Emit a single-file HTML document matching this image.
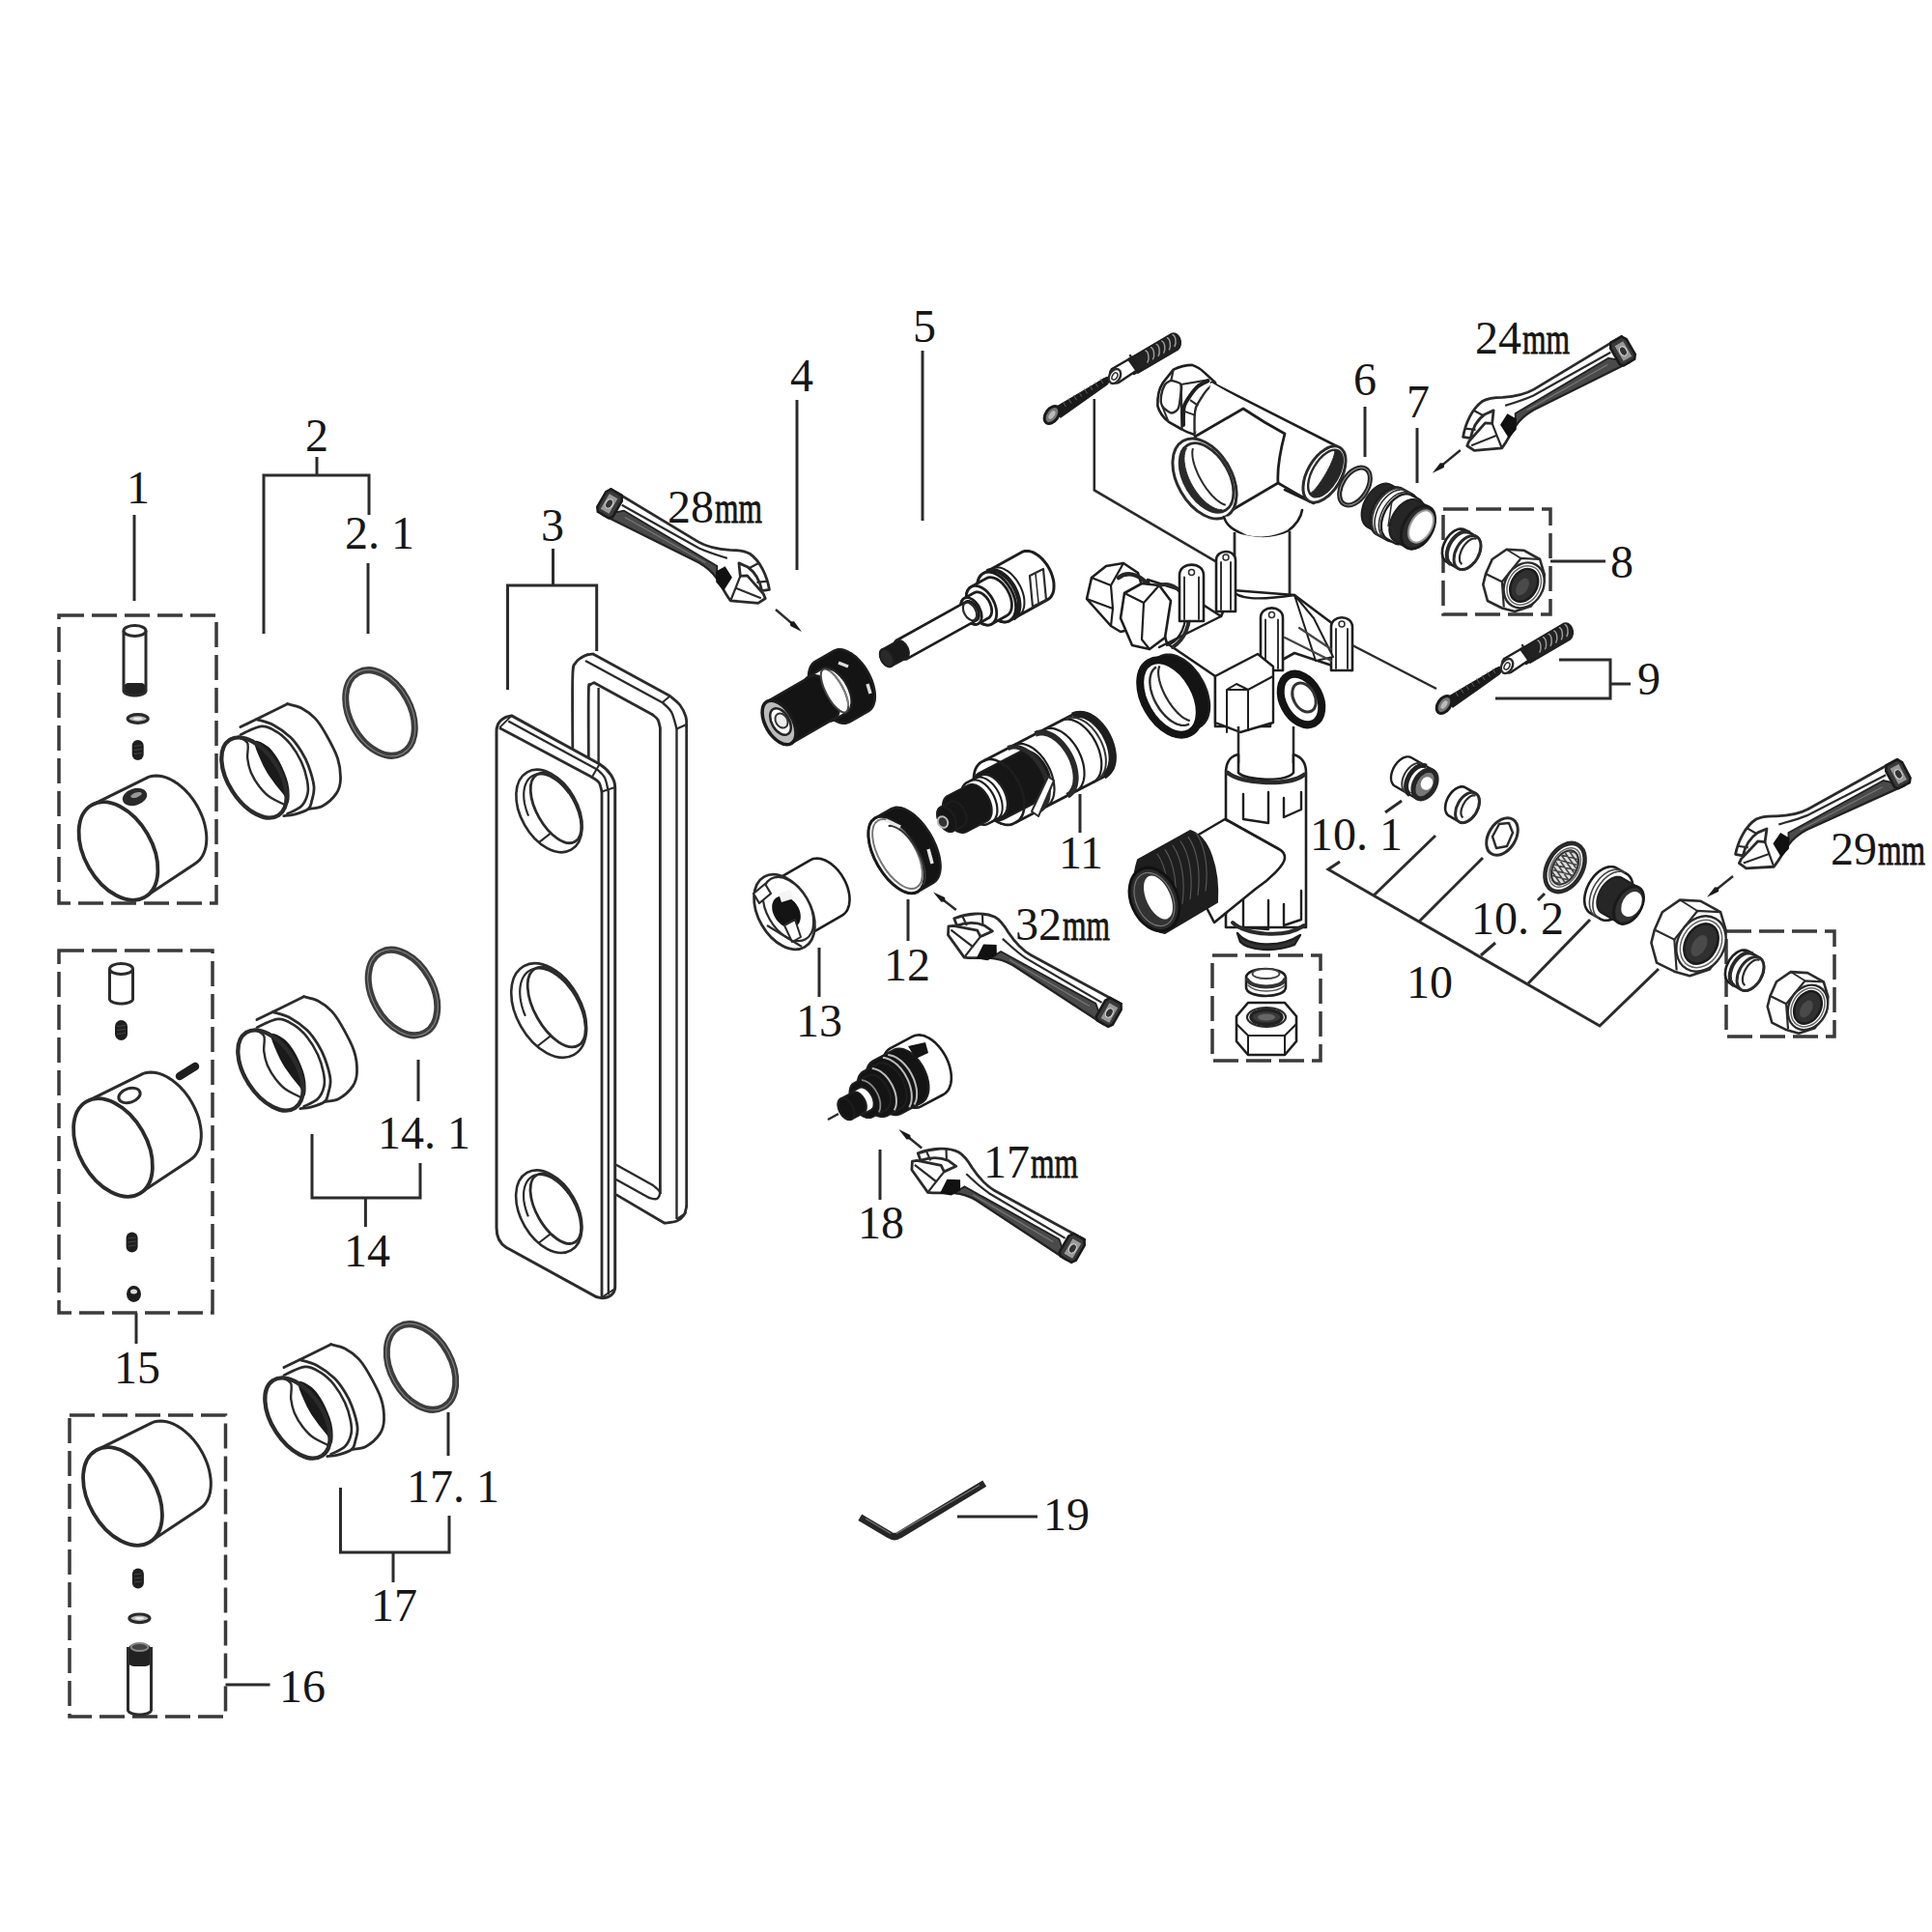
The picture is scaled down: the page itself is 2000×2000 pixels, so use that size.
<!DOCTYPE html>
<html><head><meta charset="utf-8"><style>
html,body{margin:0;padding:0;background:#fff;}
svg{display:block;}
text{font-family:"Liberation Serif",serif;fill:#161616;}
</style></head><body>
<svg width="2000" height="2000" viewBox="0 0 2000 2000">
<rect width="2000" height="2000" fill="#fff"/>
<text x="143" y="521" text-anchor="middle" font-size="48">1</text>
<text x="328" y="467" text-anchor="middle" font-size="48">2</text>
<text x="357" y="568" text-anchor="start" font-size="48">2. 1</text>
<text x="572" y="560" text-anchor="middle" font-size="48">3</text>
<text x="830" y="405" text-anchor="middle" font-size="48">4</text>
<text x="957" y="354" text-anchor="middle" font-size="48">5</text>
<text x="691" y="541" font-size="48">28</text>
<text x="740" y="541" font-size="46" stroke="#161616" stroke-width="0.9" textLength="49" lengthAdjust="spacingAndGlyphs">mm</text>
<text x="1413" y="409" text-anchor="middle" font-size="48">6</text>
<text x="1468" y="432" text-anchor="middle" font-size="48">7</text>
<text x="1527" y="366" font-size="48">24</text>
<text x="1576" y="366" font-size="46" stroke="#161616" stroke-width="0.9" textLength="49" lengthAdjust="spacingAndGlyphs">mm</text>
<text x="1679" y="598" text-anchor="middle" font-size="48">8</text>
<text x="1707" y="719" text-anchor="middle" font-size="48">9</text>
<text x="1356" y="880" text-anchor="start" font-size="48">10. 1</text>
<text x="1119" y="899" text-anchor="middle" font-size="48">11</text>
<text x="1895" y="895" font-size="48">29</text>
<text x="1944" y="895" font-size="46" stroke="#161616" stroke-width="0.9" textLength="49" lengthAdjust="spacingAndGlyphs">mm</text>
<text x="1051" y="973" font-size="48">32</text>
<text x="1100" y="973" font-size="46" stroke="#161616" stroke-width="0.9" textLength="49" lengthAdjust="spacingAndGlyphs">mm</text>
<text x="1523" y="967" text-anchor="start" font-size="48">10. 2</text>
<text x="939" y="1015" text-anchor="middle" font-size="48">12</text>
<text x="848" y="1073" text-anchor="middle" font-size="48">13</text>
<text x="1480" y="1033" text-anchor="middle" font-size="48">10</text>
<text x="391" y="1189" text-anchor="start" font-size="48">14. 1</text>
<text x="1018" y="1219" font-size="48">17</text>
<text x="1067" y="1219" font-size="46" stroke="#161616" stroke-width="0.9" textLength="49" lengthAdjust="spacingAndGlyphs">mm</text>
<text x="380" y="1311" text-anchor="middle" font-size="48">14</text>
<text x="912" y="1282" text-anchor="middle" font-size="48">18</text>
<text x="142" y="1432" text-anchor="middle" font-size="48">15</text>
<text x="421" y="1555" text-anchor="start" font-size="48">17. 1</text>
<text x="1104" y="1584" text-anchor="middle" font-size="48">19</text>
<text x="408" y="1678" text-anchor="middle" font-size="48">17</text>
<text x="313" y="1762" text-anchor="middle" font-size="48">16</text>
<path d="M139.0,533.0 L139.0,622.0" stroke="#2b2b2b" stroke-width="3" fill="none" />
<path d="M328.0,473.0 L328.0,492.0" stroke="#2b2b2b" stroke-width="3" fill="none" />
<path d="M273.0,656.0 L273.0,492.0 L382.0,492.0 L382.0,533.0" stroke="#2b2b2b" stroke-width="3" fill="none" />
<path d="M381.0,583.0 L381.0,656.0" stroke="#2b2b2b" stroke-width="3" fill="none" />
<path d="M572.5,568.0 L572.5,606.0" stroke="#2b2b2b" stroke-width="3" fill="none" />
<path d="M525.5,714.0 L525.5,606.0 L617.7,606.0 L617.7,674.0" stroke="#2b2b2b" stroke-width="3" fill="none" />
<path d="M825.0,414.0 L825.0,590.0" stroke="#2b2b2b" stroke-width="3" fill="none" />
<path d="M955.0,363.0 L955.0,539.0" stroke="#2b2b2b" stroke-width="3" fill="none" />
<path d="M1413.0,421.0 L1413.0,473.0" stroke="#2b2b2b" stroke-width="3" fill="none" />
<path d="M1467.0,443.0 L1467.0,500.0" stroke="#2b2b2b" stroke-width="3" fill="none" />
<path d="M1605.0,581.0 L1662.0,581.0" stroke="#2b2b2b" stroke-width="3" fill="none" />
<path d="M141.0,1359.0 L141.0,1391.0" stroke="#2b2b2b" stroke-width="3" fill="none" />
<path d="M433.0,1097.0 L433.0,1140.0" stroke="#2b2b2b" stroke-width="3" fill="none" />
<path d="M323.0,1174.0 L323.0,1240.0 L435.0,1240.0 L435.0,1204.0" stroke="#2b2b2b" stroke-width="3" fill="none" />
<path d="M378.4,1240.0 L378.4,1270.0" stroke="#2b2b2b" stroke-width="3" fill="none" />
<path d="M464.0,1462.0 L464.0,1507.0" stroke="#2b2b2b" stroke-width="3" fill="none" />
<path d="M352.5,1540.0 L352.5,1607.0 L465.0,1607.0 L465.0,1569.0" stroke="#2b2b2b" stroke-width="3" fill="none" />
<path d="M407.0,1607.0 L407.0,1638.0" stroke="#2b2b2b" stroke-width="3" fill="none" />
<path d="M233.5,1744.0 L279.5,1744.0" stroke="#2b2b2b" stroke-width="3" fill="none" />
<path d="M1118.0,822.0 L1118.0,862.0" stroke="#2b2b2b" stroke-width="3" fill="none" />
<path d="M848.0,981.0 L848.0,1032.0" stroke="#2b2b2b" stroke-width="3" fill="none" />
<path d="M940.0,931.0 L940.0,974.0" stroke="#2b2b2b" stroke-width="3" fill="none" />
<path d="M911.0,1190.0 L911.0,1242.0" stroke="#2b2b2b" stroke-width="3" fill="none" />
<path d="M991.0,1570.0 L1074.0,1570.0" stroke="#2b2b2b" stroke-width="3" fill="none" />
<path d="M1614.0,683.0 L1667.0,683.0 L1667.0,723.0 L1548.0,723.0" stroke="#2b2b2b" stroke-width="3" fill="none" />
<path d="M1667.0,708.0 L1688.0,708.0" stroke="#2b2b2b" stroke-width="3" fill="none" />
<path d="M1387.0,892.0 L1375.0,900.0 L1656.0,1062.0 L1717.0,1003.0" stroke="#2b2b2b" stroke-width="3" fill="none" />
<path d="M1422.0,927.0 L1486.0,865.0" stroke="#2b2b2b" stroke-width="3" fill="none" />
<path d="M1469.0,954.0 L1535.0,888.0" stroke="#2b2b2b" stroke-width="3" fill="none" />
<path d="M1533.0,989.0 L1548.0,976.0" stroke="#2b2b2b" stroke-width="3" fill="none" />
<path d="M1582.0,1018.0 L1646.0,952.0" stroke="#2b2b2b" stroke-width="3" fill="none" />
<path d="M1434.0,841.0 L1451.0,829.0" stroke="#2b2b2b" stroke-width="3" fill="none" />
<path d="M1592.0,932.0 L1599.0,925.0" stroke="#2b2b2b" stroke-width="3" fill="none" />
<rect x="61" y="637" width="163" height="298" stroke="#3a3a3a" stroke-width="3.5" fill="none" stroke-dasharray="26 8"/>
<rect x="61" y="984" width="159" height="375" stroke="#3a3a3a" stroke-width="3.5" fill="none" stroke-dasharray="26 8"/>
<rect x="72" y="1465" width="161.5" height="312" stroke="#3a3a3a" stroke-width="3.5" fill="none" stroke-dasharray="26 8"/>
<rect x="1494" y="527" width="111" height="109" stroke="#3a3a3a" stroke-width="3.5" fill="none" stroke-dasharray="26 8"/>
<rect x="1787" y="964" width="112" height="109" stroke="#3a3a3a" stroke-width="3.5" fill="none" stroke-dasharray="26 8"/>
<rect x="1255" y="989" width="112" height="109" stroke="#3a3a3a" stroke-width="3.5" fill="none" stroke-dasharray="26 8"/>
<rect x="128.0" y="707" width="23" height="12" rx="5" fill="#222"/>
<path d="M128.0,653.0 L128.0,715.0" stroke="#2b2b2b" stroke-width="3" fill="none" />
<path d="M151.0,653.0 L151.0,715.0" stroke="#2b2b2b" stroke-width="3" fill="none" />
<path d="M151.0,715.0 L151.0,715.4 L150.8,715.9 L150.6,716.3 L150.3,716.7 L149.9,717.1 L149.5,717.5 L148.9,717.9 L148.3,718.2 L147.6,718.5 L146.9,718.8 L146.1,719.1 L145.2,719.3 L144.4,719.5 L143.4,719.7 L142.5,719.8 L141.5,719.9 L140.5,720.0 L139.5,720.0 L138.5,720.0 L137.5,719.9 L136.5,719.8 L135.6,719.7 L134.6,719.5 L133.8,719.3 L132.9,719.1 L132.1,718.8 L131.4,718.5 L130.7,718.2 L130.1,717.9 L129.5,717.5 L129.1,717.1 L128.7,716.7 L128.4,716.3 L128.2,715.9 L128.0,715.4 L128.0,715.0" stroke="#2b2b2b" stroke-width="3" fill="none" />
<ellipse cx="139.5" cy="653" rx="11.5" ry="5.5" transform="rotate(0 139.5 653)" stroke="#2b2b2b" stroke-width="3" fill="#fff"/>
<ellipse cx="142.7" cy="744" rx="10.5" ry="4.3" transform="rotate(0 142.7 744)" stroke="#2b2b2b" stroke-width="3.2" fill="#bbb"/>
<ellipse cx="142.7" cy="744" rx="4.5" ry="1.4" transform="rotate(0 142.7 744)" stroke="#2b2b2b" stroke-width="0" fill="#eee"/>
<rect x="136.7" y="766.0" width="12" height="21" rx="6.0" fill="#1e1e1e"/>
<line x1="138.7" y1="772.5" x2="146.7" y2="771.5" stroke="#444" stroke-width="1"/>
<line x1="138.7" y1="776.5" x2="146.7" y2="775.5" stroke="#444" stroke-width="1"/>
<line x1="138.7" y1="780.5" x2="146.7" y2="779.5" stroke="#444" stroke-width="1"/>
<path d="M95.0,833.4 L150.7,805.8 L150.7,805.8 L153.2,804.6 L155.9,803.7 L158.7,803.2 L161.7,803.0 L164.8,803.2 L168.0,803.8 L171.2,804.6 L174.5,805.9 L177.8,807.5 L181.0,809.4 L184.3,811.6 L187.4,814.1 L190.5,816.8 L193.5,819.9 L196.4,823.1 L199.1,826.6 L201.6,830.2 L203.9,834.0 L206.0,837.9 L207.9,841.9 L209.6,846.0 L211.0,850.1 L212.1,854.2 L212.9,858.2 L213.5,862.2 L213.8,866.1 L213.8,869.9 L213.5,873.5 L213.0,877.0 L212.1,880.2 L211.0,883.3 L209.6,886.0 L208.0,888.5 L206.1,890.7 L204.0,892.6 L201.7,894.2 L201.7,894.2 L150.0,928.6" stroke="#2b2b2b" stroke-width="3" fill="#fff" stroke-linejoin="round"/>
<ellipse cx="139.5" cy="825" rx="11.5" ry="7.2" transform="rotate(-18 139.5 825)" stroke="#2b2b2b" stroke-width="3" fill="#2a2a2a"/>
<ellipse cx="141.0" cy="823" rx="6" ry="2.5" transform="rotate(-18 141.0 823)" stroke="#2b2b2b" stroke-width="0" fill="#999"/>
<ellipse cx="122.5" cy="881" rx="55" ry="35" transform="rotate(60 122.5 881)" stroke="#2b2b2b" stroke-width="3.8" fill="#fff"/>
<path d="M248.9,752.6 C257.0,748.6 289.4,732.7 297.5,728.7" stroke="#2b2b2b" stroke-width="2.8" fill="none" stroke-linejoin="round" stroke-linecap="round" />
<path d="M297.5,728.7 C299.9,729.4 307.2,730.5 312.0,733.0 C316.8,735.5 322.2,739.4 326.4,743.9 C330.6,748.4 333.4,753.0 337.3,759.9 C341.2,766.8 347.1,777.4 349.6,785.2 C352.1,793.1 352.7,801.0 352.5,807.0 C352.3,813.0 351.3,816.8 348.2,821.4 C345.1,826.0 338.5,831.8 333.7,834.5 C328.9,837.2 321.6,836.9 319.2,837.4" stroke="#2b2b2b" stroke-width="2.8" fill="none" stroke-linejoin="round" stroke-linecap="round" />
<path d="M265.6,744.6 C268.5,745.6 277.1,747.2 283.0,750.4 C288.9,753.5 296.2,758.9 301.0,763.5 C305.8,768.1 309.0,773.2 312.0,778.0 C315.0,782.8 317.0,786.5 319.2,792.5 C321.4,798.5 324.4,808.2 325.0,814.2 C325.6,820.2 323.8,824.8 322.8,828.7 C321.8,832.6 322.2,835.0 319.2,837.4 C316.2,839.8 308.9,842.0 304.7,843.2 C300.5,844.4 295.6,844.4 293.8,844.6" stroke="#2b2b2b" stroke-width="2.8" fill="none" stroke-linejoin="round" stroke-linecap="round" />
<path d="M248.9,760.6 C252.5,759.1 264.4,752.4 270.7,751.9 C277.0,751.4 281.6,754.6 286.6,757.7 C291.7,760.8 296.8,765.5 301.0,770.7 C305.2,775.9 309.2,782.8 312.0,788.8 C314.8,794.8 316.7,801.6 317.8,807.0 C318.9,812.4 319.5,816.8 318.5,821.4 C317.5,826.0 315.5,831.0 312.0,834.5 C308.5,838.0 299.9,841.2 297.5,842.5" stroke="#2b2b2b" stroke-width="2.6" fill="none" stroke-linejoin="round" stroke-linecap="round" />
<path d="M246.7,762.8 C248.3,763.9 254.6,765.6 256.2,769.3 C257.8,773.0 255.6,780.1 256.2,785.2 C256.8,790.3 257.8,794.9 259.8,799.7 C261.9,804.5 265.2,810.0 268.5,814.2 C271.8,818.4 274.9,822.0 279.3,825.1 C283.7,828.2 292.1,831.7 294.6,833.0" stroke="#2b2b2b" stroke-width="2.4" fill="none" stroke-linejoin="round" stroke-linecap="round" />
<path d="M264.1,767.8 C262.9,769.7 267.7,779.9 269.9,785.2 C272.1,790.5 274.4,795.1 277.2,799.7 C280.0,804.3 283.7,808.9 286.6,812.8 C289.5,816.7 292.8,819.9 294.6,822.9 C296.4,825.9 296.8,830.9 297.5,830.9 C298.2,830.9 298.9,826.3 298.9,822.9 C298.9,819.5 298.4,814.5 297.5,810.6 C296.6,806.7 295.6,803.9 293.8,799.7 C292.0,795.5 289.4,789.6 286.6,785.2 C283.8,780.9 280.9,776.5 277.2,773.6 C273.4,770.7 265.3,765.9 264.1,767.8 Z" stroke="#1a1a1a" stroke-width="1.5" fill="#1a1a1a" stroke-linejoin="round" stroke-linecap="round" />
<ellipse cx="263" cy="805" rx="46.5" ry="26.5" transform="rotate(57 263 805)" stroke="#2b2b2b" stroke-width="4.3" fill="none"/>
<ellipse cx="393.5" cy="738" rx="47.5" ry="31.3" transform="rotate(61 393.5 738)" stroke="#3d3d3d" stroke-width="7" fill="none"/>
<ellipse cx="393.5" cy="738" rx="48.0" ry="31.8" transform="rotate(61 393.5 738)" stroke="#8a8a8a" stroke-width="1.0" fill="none"/>
<path d="M113.5,1003.0 L113.5,1034.0" stroke="#2b2b2b" stroke-width="3" fill="none" />
<path d="M137.5,1003.0 L137.5,1034.0" stroke="#2b2b2b" stroke-width="3" fill="none" />
<path d="M137.5,1034.0 L137.5,1034.4 L137.3,1034.9 L137.1,1035.3 L136.8,1035.7 L136.4,1036.1 L135.9,1036.5 L135.3,1036.9 L134.7,1037.2 L134.0,1037.5 L133.2,1037.8 L132.4,1038.1 L131.5,1038.3 L130.6,1038.5 L129.6,1038.7 L128.6,1038.8 L127.6,1038.9 L126.5,1039.0 L125.5,1039.0 L124.5,1039.0 L123.4,1038.9 L122.4,1038.8 L121.4,1038.7 L120.4,1038.5 L119.5,1038.3 L118.6,1038.1 L117.8,1037.8 L117.0,1037.5 L116.3,1037.2 L115.7,1036.9 L115.1,1036.5 L114.6,1036.1 L114.2,1035.7 L113.9,1035.3 L113.7,1034.9 L113.5,1034.4 L113.5,1034.0" stroke="#2b2b2b" stroke-width="3" fill="none" />
<ellipse cx="125.5" cy="1003" rx="12.0" ry="5.5" transform="rotate(0 125.5 1003)" stroke="#2b2b2b" stroke-width="3" fill="#fff"/>
<rect x="119.0" y="1056.0" width="13" height="21" rx="6.5" fill="#1e1e1e"/>
<line x1="121.0" y1="1062.5" x2="130.0" y2="1061.5" stroke="#444" stroke-width="1"/>
<line x1="121.0" y1="1066.5" x2="130.0" y2="1065.5" stroke="#444" stroke-width="1"/>
<line x1="121.0" y1="1070.5" x2="130.0" y2="1069.5" stroke="#444" stroke-width="1"/>
<path d="M89.5,1140.4 L145.2,1112.8 L145.2,1112.8 L147.7,1111.6 L150.4,1110.7 L153.2,1110.2 L156.2,1110.0 L159.3,1110.2 L162.5,1110.8 L165.7,1111.6 L169.0,1112.9 L172.3,1114.5 L175.5,1116.4 L178.8,1118.6 L181.9,1121.1 L185.0,1123.8 L188.0,1126.9 L190.9,1130.1 L193.6,1133.6 L196.1,1137.2 L198.4,1141.0 L200.5,1144.9 L202.4,1148.9 L204.1,1153.0 L205.5,1157.1 L206.6,1161.2 L207.4,1165.2 L208.0,1169.2 L208.3,1173.1 L208.3,1176.9 L208.0,1180.5 L207.5,1184.0 L206.6,1187.2 L205.5,1190.3 L204.1,1193.0 L202.5,1195.5 L200.6,1197.7 L198.5,1199.6 L196.2,1201.2 L196.2,1201.2 L144.5,1235.6" stroke="#2b2b2b" stroke-width="3" fill="#fff" stroke-linejoin="round"/>
<ellipse cx="134" cy="1134" rx="11.5" ry="7.2" transform="rotate(-18 134 1134)" stroke="#2b2b2b" stroke-width="3" fill="#fff"/>
<ellipse cx="117" cy="1188" rx="55" ry="35" transform="rotate(60 117 1188)" stroke="#2b2b2b" stroke-width="3.8" fill="#fff"/>
<path d="M186,1114 L202,1104" stroke="#1e1e1e" stroke-width="8.5" stroke-linecap="round"/>
<rect x="130.6" y="1275.5" width="12" height="21" rx="6.0" fill="#1e1e1e"/>
<line x1="132.6" y1="1282" x2="140.6" y2="1281" stroke="#444" stroke-width="1"/>
<line x1="132.6" y1="1286" x2="140.6" y2="1285" stroke="#444" stroke-width="1"/>
<line x1="132.6" y1="1290" x2="140.6" y2="1289" stroke="#444" stroke-width="1"/>
<ellipse cx="138.5" cy="1339.5" rx="7.5" ry="8.5" fill="#1e1e1e"/><ellipse cx="138.5" cy="1337" rx="3.5" ry="2.5" fill="#ddd"/>
<path d="M265.9,1055.6 C274.0,1051.6 306.4,1035.7 314.5,1031.7" stroke="#2b2b2b" stroke-width="2.8" fill="none" stroke-linejoin="round" stroke-linecap="round" />
<path d="M314.5,1031.7 C316.9,1032.4 324.2,1033.5 329.0,1036.0 C333.8,1038.5 339.2,1042.4 343.4,1046.9 C347.6,1051.4 350.4,1056.0 354.3,1062.9 C358.2,1069.8 364.1,1080.4 366.6,1088.2 C369.1,1096.0 369.7,1104.0 369.5,1110.0 C369.3,1116.0 368.3,1119.8 365.2,1124.4 C362.1,1129.0 355.5,1134.8 350.7,1137.5 C345.9,1140.2 338.6,1139.9 336.2,1140.4" stroke="#2b2b2b" stroke-width="2.8" fill="none" stroke-linejoin="round" stroke-linecap="round" />
<path d="M282.6,1047.6 C285.5,1048.6 294.1,1050.2 300.0,1053.4 C305.9,1056.6 313.2,1061.9 318.0,1066.5 C322.8,1071.1 326.0,1076.2 329.0,1081.0 C332.0,1085.8 334.0,1089.5 336.2,1095.5 C338.4,1101.5 341.4,1111.2 342.0,1117.2 C342.6,1123.2 340.8,1127.8 339.8,1131.7 C338.8,1135.6 339.2,1138.0 336.2,1140.4 C333.2,1142.8 325.9,1145.0 321.7,1146.2 C317.5,1147.4 312.6,1147.4 310.8,1147.6" stroke="#2b2b2b" stroke-width="2.8" fill="none" stroke-linejoin="round" stroke-linecap="round" />
<path d="M265.9,1063.6 C269.5,1062.1 281.4,1055.4 287.7,1054.9 C294.0,1054.4 298.6,1057.6 303.6,1060.7 C308.7,1063.8 313.8,1068.5 318.0,1073.7 C322.2,1078.9 326.2,1085.8 329.0,1091.8 C331.8,1097.8 333.7,1104.6 334.8,1110.0 C335.9,1115.4 336.5,1119.8 335.5,1124.4 C334.5,1129.0 332.5,1134.0 329.0,1137.5 C325.5,1141.0 316.9,1144.2 314.5,1145.5" stroke="#2b2b2b" stroke-width="2.6" fill="none" stroke-linejoin="round" stroke-linecap="round" />
<path d="M263.7,1065.8 C265.3,1066.9 271.6,1068.6 273.2,1072.3 C274.8,1076.0 272.6,1083.1 273.2,1088.2 C273.8,1093.3 274.8,1097.9 276.8,1102.7 C278.9,1107.5 282.2,1113.0 285.5,1117.2 C288.8,1121.4 291.9,1125.0 296.3,1128.1 C300.7,1131.2 309.1,1134.7 311.6,1136.0" stroke="#2b2b2b" stroke-width="2.4" fill="none" stroke-linejoin="round" stroke-linecap="round" />
<path d="M281.1,1070.8 C279.9,1072.7 284.7,1082.9 286.9,1088.2 C289.1,1093.5 291.4,1098.1 294.2,1102.7 C297.0,1107.3 300.7,1111.9 303.6,1115.8 C306.5,1119.7 309.8,1122.9 311.6,1125.9 C313.4,1128.9 313.8,1133.9 314.5,1133.9 C315.2,1133.9 315.9,1129.3 315.9,1125.9 C315.9,1122.5 315.4,1117.5 314.5,1113.6 C313.6,1109.7 312.6,1106.9 310.8,1102.7 C309.0,1098.5 306.4,1092.6 303.6,1088.2 C300.8,1083.8 297.9,1079.5 294.2,1076.6 C290.4,1073.7 282.3,1068.9 281.1,1070.8 Z" stroke="#1a1a1a" stroke-width="1.5" fill="#1a1a1a" stroke-linejoin="round" stroke-linecap="round" />
<ellipse cx="280" cy="1108" rx="46.5" ry="26.5" transform="rotate(57 280 1108)" stroke="#2b2b2b" stroke-width="4.3" fill="none"/>
<ellipse cx="417" cy="1027.5" rx="47.5" ry="31.3" transform="rotate(61 417 1027.5)" stroke="#3d3d3d" stroke-width="7" fill="none"/>
<ellipse cx="417" cy="1027.5" rx="48.0" ry="31.8" transform="rotate(61 417 1027.5)" stroke="#8a8a8a" stroke-width="1.0" fill="none"/>
<path d="M99.5,1501.4 L155.2,1473.8 L155.2,1473.8 L157.7,1472.6 L160.4,1471.7 L163.2,1471.2 L166.2,1471.0 L169.3,1471.2 L172.5,1471.8 L175.7,1472.6 L179.0,1473.9 L182.3,1475.5 L185.5,1477.4 L188.8,1479.6 L191.9,1482.1 L195.0,1484.8 L198.0,1487.9 L200.9,1491.1 L203.6,1494.6 L206.1,1498.2 L208.4,1502.0 L210.5,1505.9 L212.4,1509.9 L214.1,1514.0 L215.5,1518.1 L216.6,1522.2 L217.4,1526.2 L218.0,1530.2 L218.3,1534.1 L218.3,1537.9 L218.0,1541.5 L217.5,1545.0 L216.6,1548.2 L215.5,1551.3 L214.1,1554.0 L212.5,1556.5 L210.6,1558.7 L208.5,1560.6 L206.2,1562.2 L206.2,1562.2 L154.5,1596.6" stroke="#2b2b2b" stroke-width="3" fill="#fff" stroke-linejoin="round"/>
<ellipse cx="127" cy="1549" rx="55" ry="35" transform="rotate(60 127 1549)" stroke="#2b2b2b" stroke-width="3.8" fill="#fff"/>
<rect x="136.9" y="1623.5" width="12" height="21" rx="6.0" fill="#1e1e1e"/>
<line x1="138.9" y1="1630" x2="146.9" y2="1629" stroke="#444" stroke-width="1"/>
<line x1="138.9" y1="1634" x2="146.9" y2="1633" stroke="#444" stroke-width="1"/>
<line x1="138.9" y1="1638" x2="146.9" y2="1637" stroke="#444" stroke-width="1"/>
<ellipse cx="144.4" cy="1675.3" rx="10.5" ry="4.3" transform="rotate(0 144.4 1675.3)" stroke="#2b2b2b" stroke-width="3.2" fill="#bbb"/>
<ellipse cx="144.4" cy="1675.3" rx="4.5" ry="1.4" transform="rotate(0 144.4 1675.3)" stroke="#2b2b2b" stroke-width="0" fill="#eee"/>
<rect x="132.5" y="1702" width="24" height="23" rx="6" fill="#222"/>
<path d="M132.5,1705.0 L132.5,1770.0" stroke="#2b2b2b" stroke-width="3" fill="none" />
<path d="M156.5,1705.0 L156.5,1770.0" stroke="#2b2b2b" stroke-width="3" fill="none" />
<path d="M156.5,1770.0 L156.5,1770.4 L156.3,1770.9 L156.1,1771.3 L155.8,1771.7 L155.4,1772.1 L154.9,1772.5 L154.3,1772.9 L153.7,1773.2 L153.0,1773.5 L152.2,1773.8 L151.4,1774.1 L150.5,1774.3 L149.6,1774.5 L148.6,1774.7 L147.6,1774.8 L146.6,1774.9 L145.5,1775.0 L144.5,1775.0 L143.5,1775.0 L142.4,1774.9 L141.4,1774.8 L140.4,1774.7 L139.4,1774.5 L138.5,1774.3 L137.6,1774.1 L136.8,1773.8 L136.0,1773.5 L135.3,1773.2 L134.7,1772.9 L134.1,1772.5 L133.6,1772.1 L133.2,1771.7 L132.9,1771.3 L132.7,1770.9 L132.5,1770.4 L132.5,1770.0" stroke="#2b2b2b" stroke-width="3" fill="none" />
<ellipse cx="144.5" cy="1705" rx="9.0" ry="4" transform="rotate(0 144.5 1705)" stroke="#888" stroke-width="2" fill="#444"/>
<path d="M293.9,1415.6 C302.0,1411.6 334.4,1395.7 342.5,1391.7" stroke="#2b2b2b" stroke-width="2.8" fill="none" stroke-linejoin="round" stroke-linecap="round" />
<path d="M342.5,1391.7 C344.9,1392.4 352.2,1393.5 357.0,1396.0 C361.8,1398.5 367.2,1402.4 371.4,1406.9 C375.6,1411.4 378.4,1416.0 382.3,1422.9 C386.2,1429.8 392.1,1440.4 394.6,1448.2 C397.1,1456.0 397.7,1464.0 397.5,1470.0 C397.3,1476.0 396.3,1479.8 393.2,1484.4 C390.1,1489.0 383.5,1494.8 378.7,1497.5 C373.9,1500.2 366.6,1499.9 364.2,1500.4" stroke="#2b2b2b" stroke-width="2.8" fill="none" stroke-linejoin="round" stroke-linecap="round" />
<path d="M310.6,1407.6 C313.5,1408.6 322.1,1410.2 328.0,1413.4 C333.9,1416.6 341.2,1421.9 346.0,1426.5 C350.8,1431.1 354.0,1436.2 357.0,1441.0 C360.0,1445.8 362.0,1449.5 364.2,1455.5 C366.4,1461.5 369.4,1471.2 370.0,1477.2 C370.6,1483.2 368.8,1487.8 367.8,1491.7 C366.8,1495.6 367.2,1498.0 364.2,1500.4 C361.2,1502.8 353.9,1505.0 349.7,1506.2 C345.5,1507.4 340.6,1507.4 338.8,1507.6" stroke="#2b2b2b" stroke-width="2.8" fill="none" stroke-linejoin="round" stroke-linecap="round" />
<path d="M293.9,1423.6 C297.5,1422.1 309.4,1415.4 315.7,1414.9 C322.0,1414.4 326.6,1417.6 331.6,1420.7 C336.7,1423.8 341.8,1428.5 346.0,1433.7 C350.2,1438.9 354.2,1445.8 357.0,1451.8 C359.8,1457.8 361.7,1464.6 362.8,1470.0 C363.9,1475.4 364.5,1479.8 363.5,1484.4 C362.5,1489.0 360.5,1494.0 357.0,1497.5 C353.5,1501.0 344.9,1504.2 342.5,1505.5" stroke="#2b2b2b" stroke-width="2.6" fill="none" stroke-linejoin="round" stroke-linecap="round" />
<path d="M291.7,1425.8 C293.3,1426.9 299.6,1428.6 301.2,1432.3 C302.8,1436.0 300.6,1443.1 301.2,1448.2 C301.8,1453.3 302.8,1457.9 304.8,1462.7 C306.9,1467.5 310.2,1473.0 313.5,1477.2 C316.8,1481.4 319.9,1485.0 324.3,1488.1 C328.7,1491.2 337.1,1494.7 339.6,1496.0" stroke="#2b2b2b" stroke-width="2.4" fill="none" stroke-linejoin="round" stroke-linecap="round" />
<path d="M309.1,1430.8 C307.9,1432.7 312.7,1442.9 314.9,1448.2 C317.1,1453.5 319.4,1458.1 322.2,1462.7 C325.0,1467.3 328.7,1471.9 331.6,1475.8 C334.5,1479.7 337.8,1482.9 339.6,1485.9 C341.4,1488.9 341.8,1493.9 342.5,1493.9 C343.2,1493.9 343.9,1489.3 343.9,1485.9 C343.9,1482.5 343.4,1477.5 342.5,1473.6 C341.6,1469.7 340.6,1466.9 338.8,1462.7 C337.0,1458.5 334.4,1452.6 331.6,1448.2 C328.8,1443.8 325.9,1439.5 322.2,1436.6 C318.4,1433.7 310.3,1428.9 309.1,1430.8 Z" stroke="#1a1a1a" stroke-width="1.5" fill="#1a1a1a" stroke-linejoin="round" stroke-linecap="round" />
<ellipse cx="308" cy="1468" rx="46.5" ry="26.5" transform="rotate(57 308 1468)" stroke="#2b2b2b" stroke-width="4.3" fill="none"/>
<ellipse cx="436" cy="1415" rx="47.5" ry="31.3" transform="rotate(61 436 1415)" stroke="#3d3d3d" stroke-width="7" fill="none"/>
<ellipse cx="436" cy="1415" rx="48.0" ry="31.8" transform="rotate(61 436 1415)" stroke="#8a8a8a" stroke-width="1.0" fill="none"/>
<path d="M592.8,775.0 C592.8,762.5 592.3,714.8 592.8,700.0 C593.3,685.2 594.0,689.5 596.0,686.0 C598.0,682.5 602.0,680.5 605.0,679.0 C608.0,677.5 612.4,677.3 613.9,677.0" stroke="#2b2b2b" stroke-width="2.8" fill="none" stroke-linejoin="round" stroke-linecap="round" />
<path d="M613.9,677.0 L693.6,720.4" stroke="#2b2b2b" stroke-width="2.8" fill="none" />
<path d="M693.6,720.4 C695.3,722.0 701.3,726.4 704.0,730.0 C706.7,733.6 708.9,738.3 710.0,742.0 C711.1,745.7 710.6,750.3 710.7,752.0" stroke="#2b2b2b" stroke-width="2.8" fill="none" stroke-linejoin="round" stroke-linecap="round" />
<path d="M710.7,752.0 L710.7,1249.0" stroke="#2b2b2b" stroke-width="2.8" fill="none" />
<path d="M710.7,1249.0 C710.2,1250.5 709.7,1255.5 708.0,1258.0 C706.3,1260.5 703.8,1262.6 700.5,1264.0 C697.2,1265.4 690.1,1265.8 688.0,1266.2" stroke="#2b2b2b" stroke-width="2.8" fill="none" stroke-linejoin="round" stroke-linecap="round" />
<path d="M688.0,1266.2 L637.8,1236.6" stroke="#2b2b2b" stroke-width="2.8" fill="none" />
<path d="M606.0,684.0 L685.6,727.2" stroke="#2b2b2b" stroke-width="2.4" fill="none" />
<path d="M685.6,727.2 C687.2,728.8 692.5,732.5 695.0,737.0 C697.5,741.5 699.6,751.6 700.5,754.5" stroke="#2b2b2b" stroke-width="2.4" fill="none" stroke-linejoin="round" stroke-linecap="round" />
<path d="M700.5,754.5 L700.5,1262.0" stroke="#2b2b2b" stroke-width="2.4" fill="none" />
<path d="M603.0,680.0 L609.0,677.0" stroke="#2b2b2b" stroke-width="2" fill="none" />
<path d="M685.6,727.2 L693.6,720.4" stroke="#2b2b2b" stroke-width="2" fill="none" />
<path d="M700.5,754.5 L710.7,750.0" stroke="#2b2b2b" stroke-width="2" fill="none" />
<path d="M700.5,1262.0 L710.7,1255.0" stroke="#2b2b2b" stroke-width="2" fill="none" />
<path d="M609.3,784.7 C609.3,773.2 609.0,728.6 609.3,716.0 C609.6,703.4 610.0,710.5 611.0,709.0 C612.0,707.5 614.3,707.1 615.0,706.7" stroke="#2b2b2b" stroke-width="2.8" fill="none" stroke-linejoin="round" stroke-linecap="round" />
<path d="M619.6,790.0 L619.6,712.0" stroke="#2b2b2b" stroke-width="2.4" fill="none" />
<path d="M615.0,706.7 L675.4,739.7" stroke="#2b2b2b" stroke-width="2.8" fill="none" />
<path d="M675.4,739.7 C676.3,740.6 679.7,742.7 681.0,745.0 C682.3,747.3 683.0,752.0 683.4,753.4" stroke="#2b2b2b" stroke-width="2.8" fill="none" stroke-linejoin="round" stroke-linecap="round" />
<path d="M683.4,753.4 L683.4,1236.0" stroke="#2b2b2b" stroke-width="2.8" fill="none" />
<path d="M637.8,1205.8 L676.0,1227.0" stroke="#2b2b2b" stroke-width="2.4" fill="none" />
<path d="M676.0,1227.0 C677.2,1228.2 682.3,1231.7 683.0,1234.0 C683.7,1236.3 681.8,1240.0 680.0,1241.0 C678.2,1242.0 673.3,1240.2 672.0,1240.0" stroke="#2b2b2b" stroke-width="2.4" fill="none" stroke-linejoin="round" stroke-linecap="round" />
<path d="M672.0,1240.0 L637.8,1221.0" stroke="#2b2b2b" stroke-width="2.4" fill="none" />
<path d="M514,757 C514,748 520,742 529.6,740.9 L620.7,791 C630,797 636.7,806 636.7,815 L636.7,1332 C636.7,1340 630,1344 622,1343.6 L617.3,1342.5 L523.9,1291.2 C517,1287 514,1280 514,1271 Z" stroke="#2b2b2b" stroke-width="3" fill="#fff"/>
<path d="M526.2,746.6 L618.5,796.7" stroke="#2b2b2b" stroke-width="2.3" fill="none" />
<path d="M618.5,796.7 C619.8,798.1 624.1,801.2 626.0,805.0 C627.9,808.8 629.2,817.1 629.8,819.5" stroke="#2b2b2b" stroke-width="2.3" fill="none" stroke-linejoin="round" stroke-linecap="round" />
<path d="M629.8,819.5 L629.8,1340.0" stroke="#2b2b2b" stroke-width="2.3" fill="none" />
<path d="M517.0,753.4 L612.8,804.6" stroke="#2b2b2b" stroke-width="2.8" fill="none" />
<path d="M612.8,804.6 C614.0,805.5 618.3,807.5 620.0,810.0 C621.7,812.5 622.5,817.9 623.0,819.5" stroke="#2b2b2b" stroke-width="2.8" fill="none" stroke-linejoin="round" stroke-linecap="round" />
<path d="M623.0,819.5 L623.0,1343.0" stroke="#2b2b2b" stroke-width="2.8" fill="none" />
<path d="M517.0,753.4 L529.6,740.9" stroke="#2b2b2b" stroke-width="2" fill="none" />
<path d="M612.8,804.6 L620.7,791.0" stroke="#2b2b2b" stroke-width="2" fill="none" />
<path d="M623.0,819.5 L636.7,815.0" stroke="#2b2b2b" stroke-width="2" fill="none" />
<path d="M623.0,1343.0 L636.7,1334.0" stroke="#2b2b2b" stroke-width="2" fill="none" />
<ellipse cx="568.5" cy="839.5" rx="46.2" ry="29.3" transform="rotate(60.5 568.5 839.5)" stroke="#2b2b2b" stroke-width="2.6" fill="none"/>
<path d="M547.1,844.6 L545.8,841.3 L544.7,838.0 L543.8,834.7 L543.0,831.4 L542.5,828.2 L542.3,825.1 L542.2,822.1 L542.4,819.2 L542.8,816.5 L543.4,813.9 L544.2,811.6 L545.2,809.4 L546.4,807.5 L547.8,805.8 L549.4,804.3 L551.2,803.1 L553.1,802.2 L555.2,801.6 L557.4,801.3 L559.7,801.2 L562.1,801.4 L564.5,802.0 L567.0,802.8 L569.6,803.8 L572.1,805.2 L574.7,806.8 L577.2,808.6 L579.7,810.7 L582.1,813.0 L584.4,815.5 L586.7,818.2 L588.8,821.0" stroke="#2b2b2b" stroke-width="2.2" fill="none" />
<ellipse cx="575.5" cy="836.5" rx="40.0" ry="20.0" transform="rotate(60.5 575.5 836.5)" stroke="#2b2b2b" stroke-width="2.8" fill="none"/>
<path d="M557.8,872.1 L570.3,862.4" stroke="#2b2b2b" stroke-width="2" fill="none" />
<ellipse cx="568.2" cy="1046" rx="52.668" ry="33.402" transform="rotate(60.5 568.2 1046)" stroke="#2b2b2b" stroke-width="2.6" fill="none"/>
<path d="M543.9,1051.8 L542.3,1048.0 L541.1,1044.3 L540.0,1040.5 L539.2,1036.8 L538.6,1033.2 L538.3,1029.6 L538.2,1026.2 L538.4,1022.9 L538.8,1019.8 L539.5,1016.8 L540.5,1014.1 L541.6,1011.7 L543.0,1009.5 L544.7,1007.5 L546.5,1005.9 L548.5,1004.6 L550.7,1003.5 L553.0,1002.8 L555.5,1002.4 L558.1,1002.4 L560.8,1002.6 L563.6,1003.2 L566.5,1004.1 L569.4,1005.3 L572.3,1006.9 L575.2,1008.7 L578.1,1010.8 L580.9,1013.2 L583.7,1015.8 L586.4,1018.6 L588.9,1021.7 L591.3,1024.9" stroke="#2b2b2b" stroke-width="2.2" fill="none" />
<ellipse cx="576.1800000000001" cy="1042.58" rx="45.599999999999994" ry="22.799999999999997" transform="rotate(60.5 576.1800000000001 1042.58)" stroke="#2b2b2b" stroke-width="2.8" fill="none"/>
<path d="M556.0,1083.2 L570.2,1072.1" stroke="#2b2b2b" stroke-width="2" fill="none" />
<ellipse cx="568.3" cy="1254.2" rx="46.2" ry="29.3" transform="rotate(60.5 568.3 1254.2)" stroke="#2b2b2b" stroke-width="2.6" fill="none"/>
<path d="M546.9,1259.3 L545.6,1256.0 L544.5,1252.7 L543.6,1249.4 L542.8,1246.1 L542.3,1242.9 L542.1,1239.8 L542.0,1236.8 L542.2,1233.9 L542.6,1231.2 L543.2,1228.6 L544.0,1226.3 L545.0,1224.1 L546.2,1222.2 L547.6,1220.5 L549.2,1219.0 L551.0,1217.8 L552.9,1216.9 L555.0,1216.3 L557.2,1216.0 L559.5,1215.9 L561.9,1216.1 L564.3,1216.7 L566.8,1217.5 L569.4,1218.5 L571.9,1219.9 L574.5,1221.5 L577.0,1223.3 L579.5,1225.4 L581.9,1227.7 L584.2,1230.2 L586.5,1232.9 L588.6,1235.7" stroke="#2b2b2b" stroke-width="2.2" fill="none" />
<ellipse cx="575.3" cy="1251.2" rx="40.0" ry="20.0" transform="rotate(60.5 575.3 1251.2)" stroke="#2b2b2b" stroke-width="2.8" fill="none"/>
<path d="M557.6,1286.8 L570.1,1277.1" stroke="#2b2b2b" stroke-width="2" fill="none" />
<defs>
<g id="wr">
<path d="M-3,-14 L103,-12 C115,-12 125,-16 135,-21 C142,-25 148,-28 155,-28 C168,-27 182,-17 191,-6 L185,-1 C178,-9 170,-14 160,-15 L150,-14 L158,-3 L164,-7 L188,1 L192,4 L188,12 L162,24 C152,20 145,14 138,11 C130,7 120,6 114,6 L3,13 Z" fill="#fff" stroke="#2a2a2a" stroke-width="2.8" stroke-linejoin="round"/>
<path d="M20,-1.5 L132,0 L138,11 C130,7 120,6 114,6 L3,13 Z" fill="#4a4a4a" stroke="#222" stroke-width="1.8"/>
<path d="M24,4 L120,3" stroke="#777" stroke-width="1.2" fill="none"/>
<path d="M15,-5.4 L106.6,-6.7 C120,-8 130,-11 137,-12.3" stroke="#2a2a2a" stroke-width="2.2" fill="none"/>
<path d="M135,5.4 L139.7,-2.6 L150.4,3 L149.7,17.5 L140,14 Z" fill="#111" stroke="#111" stroke-width="2"/>
<path d="M-6,-9 L-3,-14 L10,-14 L13,-9 L13,10 L10,13 L-3,13 L-6,9 Z" fill="#3a3a3a" stroke="#1a1a1a" stroke-width="2.6"/>
<path d="M-2,-9 L8,-9 L8,9 L-2,9 Z" fill="#999" stroke="none"/>
<ellipse cx="3" cy="0" rx="3.5" ry="5" fill="#333" stroke="#ddd" stroke-width="1"/>
<path d="M167.6,-24.1 L162,-15 M185,-12.6 L176,-6 M158,-3 L160,10 L188,6 M160,10 L162,24" stroke="#2a2a2a" stroke-width="2.2" fill="none"/>
</g>
</defs>
<use href="#wr" transform="translate(628,520) rotate(30) scale(1.0,1.0)"/>
<path d="M803.0,631.0 L820.1,645.6" stroke="#2b2b2b" stroke-width="2.5" fill="none" />
<path d="M830.0,654.0 L818.2,647.9 L817.8,643.6 L822.0,643.3 Z" fill="#1a1a1a"/>
<use href="#wr" transform="translate(1683,362) rotate(150) scale(1,-1)"/>
<path d="M1511.8,466.0 L1492.8,481.6" stroke="#2b2b2b" stroke-width="2.5" fill="none" />
<path d="M1482.8,489.8 L1490.9,479.2 L1495.2,479.6 L1494.8,483.9 Z" fill="#1a1a1a"/>
<use href="#wr" transform="translate(1968,800) rotate(152) scale(1,-1)"/>
<path d="M1794.0,907.0 L1777.1,920.6" stroke="#2b2b2b" stroke-width="2.5" fill="none" />
<path d="M1767.0,928.8 L1775.2,918.3 L1779.4,918.7 L1779.0,923.0 Z" fill="#1a1a1a"/>
<use href="#wr" transform="translate(1151,1050) rotate(209.5) scale(1,-1)"/>
<path d="M989.8,942.0 L976.3,931.5" stroke="#2b2b2b" stroke-width="2.5" fill="none" />
<path d="M966.0,923.5 L978.1,929.1 L978.6,933.3 L974.4,933.8 Z" fill="#1a1a1a"/>
<use href="#wr" transform="translate(1113,1294) rotate(209.8) scale(1,-1)"/>
<path d="M954.2,1188.5 L940.4,1177.3" stroke="#2b2b2b" stroke-width="2.5" fill="none" />
<path d="M930.3,1169.1 L942.3,1175.0 L942.7,1179.2 L938.5,1179.6 Z" fill="#1a1a1a"/>
<path d="M879.9,747.2 L878.4,747.9 L876.7,748.4 L874.9,748.7 L873.0,748.7 L871.0,748.4 L868.9,748.0 L866.8,747.2 L864.7,746.2 L862.5,745.0 L860.4,743.6 L858.2,742.0 L856.1,740.2 L854.0,738.1 L852.0,736.0 L850.0,733.6 L848.2,731.2 L846.4,728.6 L844.8,725.9 L843.3,723.1 L841.9,720.3 L840.7,717.5 L839.7,714.6 L838.8,711.8 L838.1,709.0 L837.6,706.2 L837.2,703.5 L837.1,701.0 L837.1,698.5 L837.3,696.1 L837.8,694.0 L838.4,691.9 L839.1,690.1 L840.1,688.4 L841.2,687.0 L842.5,685.8 L843.9,684.8 L863.0,673.8 L864.5,673.1 L866.2,672.6 L868.0,672.3 L869.9,672.3 L871.9,672.6 L874.0,673.0 L876.1,673.8 L878.2,674.8 L880.4,676.0 L882.5,677.4 L884.7,679.0 L886.8,680.8 L888.9,682.9 L890.9,685.0 L892.9,687.4 L894.7,689.8 L896.5,692.4 L898.1,695.1 L899.6,697.9 L901.0,700.7 L902.2,703.5 L903.2,706.4 L904.1,709.2 L904.8,712.0 L905.3,714.8 L905.7,717.5 L905.8,720.0 L905.8,722.5 L905.6,724.9 L905.1,727.0 L904.5,729.1 L903.8,730.9 L902.8,732.6 L901.7,734.0 L900.4,735.2 L899.0,736.2 Z" stroke="#1e1e1e" stroke-width="2.5" fill="#141414" stroke-linejoin="round"/>
<path d="M862.8,745.5 L861.7,746.1 L860.5,746.4 L859.2,746.6 L857.8,746.6 L856.3,746.4 L854.9,746.1 L853.3,745.5 L851.8,744.8 L850.2,744.0 L848.7,743.0 L847.1,741.8 L845.6,740.5 L844.1,739.0 L842.6,737.4 L841.2,735.7 L839.9,734.0 L838.6,732.1 L837.4,730.1 L836.3,728.2 L835.3,726.1 L834.5,724.1 L833.7,722.0 L833.1,720.0 L832.6,717.9 L832.2,715.9 L832.0,714.0 L831.9,712.1 L831.9,710.3 L832.0,708.7 L832.4,707.1 L832.8,705.6 L833.3,704.3 L834.0,703.1 L834.8,702.1 L835.8,701.2 L836.8,700.5 L850.7,692.5 L851.8,691.9 L853.0,691.6 L854.3,691.4 L855.7,691.4 L857.1,691.6 L858.6,691.9 L860.1,692.5 L861.7,693.2 L863.2,694.0 L864.8,695.0 L866.3,696.2 L867.9,697.5 L869.4,699.0 L870.8,700.6 L872.3,702.3 L873.6,704.0 L874.9,705.9 L876.0,707.9 L877.1,709.8 L878.1,711.9 L879.0,713.9 L879.7,716.0 L880.4,718.0 L880.9,720.1 L881.3,722.1 L881.5,724.0 L881.6,725.9 L881.6,727.7 L881.4,729.3 L881.1,730.9 L880.7,732.4 L880.1,733.7 L879.4,734.9 L878.6,735.9 L877.7,736.8 L876.7,737.5 Z" stroke="#1e1e1e" stroke-width="2.5" fill="#fff" stroke-linejoin="round"/>
<path d="M819.0,769.7 L817.9,770.2 L816.7,770.5 L815.5,770.7 L814.2,770.7 L812.8,770.5 L811.4,770.2 L809.9,769.7 L808.4,769.0 L806.9,768.2 L805.4,767.2 L803.9,766.0 L802.4,764.8 L801.0,763.4 L799.6,761.9 L798.2,760.2 L796.9,758.5 L795.7,756.7 L794.6,754.9 L793.5,753.0 L792.6,751.0 L791.8,749.0 L791.0,747.1 L790.4,745.1 L789.9,743.1 L789.6,741.2 L789.3,739.3 L789.2,737.6 L789.3,735.8 L789.4,734.2 L789.7,732.7 L790.1,731.3 L790.7,730.0 L791.3,728.9 L792.1,727.9 L793.0,727.0 L794.0,726.3 L839.0,700.3 L840.1,699.8 L841.3,699.5 L842.5,699.3 L843.9,699.3 L845.2,699.5 L846.7,699.8 L848.1,700.3 L849.6,701.0 L851.1,701.8 L852.6,702.8 L854.1,704.0 L855.6,705.2 L857.0,706.6 L858.4,708.1 L859.8,709.8 L861.1,711.5 L862.3,713.3 L863.4,715.1 L864.5,717.0 L865.4,719.0 L866.3,721.0 L867.0,722.9 L867.6,724.9 L868.1,726.9 L868.5,728.8 L868.7,730.7 L868.8,732.4 L868.8,734.2 L868.6,735.8 L868.3,737.3 L867.9,738.7 L867.4,740.0 L866.7,741.1 L865.9,742.1 L865.0,743.0 L864.0,743.7 Z" stroke="#1e1e1e" stroke-width="2.5" fill="#141414" stroke-linejoin="round"/>
<ellipse cx="864" cy="715" rx="25" ry="9" transform="rotate(62 864 715)" stroke="#444" stroke-width="2" fill="#fff"/>
<path d="M858.4,694.6 L859.3,695.0 L860.1,695.5 L861.1,696.2 L862.1,697.0 L863.1,697.9 L864.1,699.0 L865.1,700.2 L866.2,701.4 L867.2,702.8 L868.3,704.3 L869.3,705.8 L870.3,707.4 L871.3,709.0 L872.2,710.7 L873.1,712.4 L873.9,714.1 L874.6,715.9 L875.3,717.6 L876.0,719.2 L876.5,720.9 L877.0,722.4 L877.4,724.0 L877.7,725.4 L877.9,726.8 L878.0,728.0 L878.0,729.2 L878.0,730.2 L877.8,731.1" stroke="#888" stroke-width="1.5" fill="none" />
<path d="M868.0,686.0 L878.0,690.0" stroke="#ddd" stroke-width="3.5" fill="none" />
<path d="M898.0,708.0 L901.0,718.0" stroke="#ddd" stroke-width="3.5" fill="none" />
<ellipse cx="806.5" cy="748" rx="25" ry="14" transform="rotate(60 806.5 748)" stroke="#1a1a1a" stroke-width="3.5" fill="#bbb"/>
<ellipse cx="808" cy="747" rx="15" ry="9" transform="rotate(60 808 747)" stroke="#222" stroke-width="2.5" fill="#fff"/>
<ellipse cx="809" cy="746" rx="8" ry="6" transform="rotate(60 809 746)" stroke="#333" stroke-width="2" fill="#eee"/>
<path d="M1045.3,642.5 L1043.9,643.1 L1042.5,643.5 L1041.0,643.7 L1039.4,643.8 L1037.8,643.6 L1036.1,643.3 L1034.4,642.7 L1032.7,642.0 L1030.9,641.1 L1029.2,640.0 L1027.5,638.7 L1025.8,637.3 L1024.1,635.7 L1022.5,634.0 L1021.0,632.2 L1019.6,630.2 L1018.2,628.2 L1017.0,626.1 L1015.9,624.0 L1014.9,621.7 L1014.0,619.5 L1013.3,617.3 L1012.6,615.0 L1012.2,612.8 L1011.9,610.6 L1011.7,608.5 L1011.7,606.4 L1011.9,604.5 L1012.2,602.6 L1012.6,600.8 L1013.2,599.2 L1013.9,597.7 L1014.8,596.4 L1015.8,595.3 L1016.9,594.3 L1018.1,593.5 L1057.5,571.7 L1058.8,571.1 L1060.2,570.6 L1061.7,570.4 L1063.3,570.4 L1065.0,570.5 L1066.6,570.9 L1068.4,571.4 L1070.1,572.2 L1071.8,573.1 L1073.6,574.2 L1075.3,575.4 L1077.0,576.9 L1078.6,578.4 L1080.2,580.1 L1081.7,582.0 L1083.2,583.9 L1084.5,585.9 L1085.8,588.0 L1086.9,590.2 L1087.9,592.4 L1088.8,594.6 L1089.5,596.9 L1090.1,599.1 L1090.6,601.3 L1090.9,603.5 L1091.0,605.7 L1091.0,607.7 L1090.9,609.7 L1090.6,611.5 L1090.2,613.3 L1089.6,614.9 L1088.8,616.4 L1088.0,617.7 L1087.0,618.9 L1085.9,619.8 L1084.6,620.6 Z" stroke="#1e1e1e" stroke-width="3" fill="#fff" stroke-linejoin="round"/>
<ellipse cx="1031.7" cy="618.0" rx="28" ry="16.8" transform="rotate(61 1031.7 618.0)" stroke="#1e1e1e" stroke-width="3" fill="#fff"/>
<path d="M1026.6,645.9 L1025.6,646.4 L1024.5,646.8 L1023.3,646.9 L1022.0,647.0 L1020.7,646.8 L1019.4,646.6 L1018.1,646.1 L1016.7,645.6 L1015.3,644.8 L1014.0,644.0 L1012.6,643.0 L1011.3,641.9 L1010.0,640.6 L1008.8,639.3 L1007.6,637.9 L1006.4,636.3 L1005.4,634.8 L1004.4,633.1 L1003.5,631.4 L1002.7,629.7 L1002.0,627.9 L1001.5,626.1 L1001.0,624.4 L1000.6,622.6 L1000.4,620.9 L1000.3,619.2 L1000.3,617.6 L1000.4,616.1 L1000.6,614.6 L1000.9,613.2 L1001.4,612.0 L1002.0,610.8 L1002.7,609.8 L1003.4,608.9 L1004.3,608.1 L1005.3,607.5 L1021.0,598.7 L1022.1,598.2 L1023.2,597.9 L1024.4,597.7 L1025.6,597.7 L1026.9,597.8 L1028.2,598.1 L1029.6,598.5 L1031.0,599.1 L1032.3,599.8 L1033.7,600.7 L1035.0,601.7 L1036.4,602.8 L1037.7,604.0 L1038.9,605.4 L1040.1,606.8 L1041.2,608.3 L1042.3,609.9 L1043.2,611.6 L1044.1,613.3 L1044.9,615.0 L1045.6,616.8 L1046.2,618.5 L1046.7,620.3 L1047.0,622.1 L1047.3,623.8 L1047.4,625.4 L1047.4,627.1 L1047.3,628.6 L1047.1,630.1 L1046.7,631.4 L1046.2,632.7 L1045.7,633.9 L1045.0,634.9 L1044.2,635.8 L1043.3,636.6 L1042.4,637.2 Z" stroke="#1e1e1e" stroke-width="2.8" fill="#fff" stroke-linejoin="round"/>
<ellipse cx="1016.0" cy="626.7" rx="22" ry="13.2" transform="rotate(61 1016.0 626.7)" stroke="#1e1e1e" stroke-width="2.8" fill="#fff"/>
<path d="M1012.7,645.6 L1012.0,646.0 L1011.3,646.2 L1010.4,646.3 L1009.6,646.3 L1008.7,646.3 L1007.8,646.1 L1006.9,645.8 L1006.0,645.4 L1005.0,644.9 L1004.1,644.3 L1003.2,643.6 L1002.3,642.9 L1001.4,642.0 L1000.6,641.1 L999.7,640.1 L999.0,639.1 L998.3,638.0 L997.6,636.9 L997.0,635.7 L996.4,634.5 L996.0,633.3 L995.6,632.1 L995.3,630.9 L995.0,629.7 L994.8,628.6 L994.8,627.4 L994.8,626.3 L994.8,625.3 L995.0,624.3 L995.2,623.3 L995.5,622.5 L995.9,621.7 L996.4,621.0 L996.9,620.4 L997.5,619.8 L998.2,619.4 L1008.7,613.6 L1009.4,613.3 L1010.2,613.0 L1011.0,612.9 L1011.8,612.9 L1012.7,613.0 L1013.6,613.2 L1014.5,613.5 L1015.4,613.8 L1016.4,614.3 L1017.3,614.9 L1018.2,615.6 L1019.1,616.4 L1020.0,617.2 L1020.9,618.1 L1021.7,619.1 L1022.4,620.1 L1023.2,621.2 L1023.8,622.3 L1024.4,623.5 L1025.0,624.7 L1025.4,625.9 L1025.8,627.1 L1026.2,628.3 L1026.4,629.5 L1026.6,630.7 L1026.7,631.8 L1026.7,632.9 L1026.6,633.9 L1026.4,634.9 L1026.2,635.9 L1025.9,636.7 L1025.5,637.5 L1025.0,638.2 L1024.5,638.9 L1023.9,639.4 L1023.2,639.8 Z" stroke="#1e1e1e" stroke-width="2.8" fill="#fff" stroke-linejoin="round"/>
<ellipse cx="1005.5" cy="632.5" rx="15" ry="9.0" transform="rotate(61 1005.5 632.5)" stroke="#1e1e1e" stroke-width="2.8" fill="#fff"/>
<path d="M939.1,681.9 L938.6,682.1 L938.0,682.3 L937.4,682.4 L936.8,682.4 L936.1,682.3 L935.5,682.2 L934.8,682.0 L934.1,681.7 L933.4,681.3 L932.7,680.9 L932.1,680.4 L931.4,679.9 L930.8,679.2 L930.1,678.6 L929.5,677.9 L929.0,677.1 L928.5,676.3 L928.0,675.5 L927.5,674.6 L927.1,673.8 L926.8,672.9 L926.5,672.0 L926.3,671.1 L926.1,670.2 L926.0,669.4 L925.9,668.5 L925.9,667.7 L925.9,667.0 L926.1,666.2 L926.2,665.5 L926.5,664.9 L926.8,664.3 L927.1,663.8 L927.5,663.4 L927.9,663.0 L928.4,662.7 L1000.1,622.9 L1000.7,622.7 L1001.2,622.5 L1001.8,622.4 L1002.4,622.4 L1003.1,622.4 L1003.7,622.6 L1004.4,622.8 L1005.1,623.1 L1005.8,623.5 L1006.5,623.9 L1007.1,624.4 L1007.8,624.9 L1008.4,625.6 L1009.1,626.2 L1009.7,626.9 L1010.2,627.7 L1010.7,628.5 L1011.2,629.3 L1011.7,630.2 L1012.1,631.0 L1012.4,631.9 L1012.7,632.8 L1012.9,633.7 L1013.1,634.6 L1013.2,635.4 L1013.3,636.3 L1013.3,637.1 L1013.3,637.8 L1013.1,638.6 L1013.0,639.3 L1012.7,639.9 L1012.4,640.5 L1012.1,641.0 L1011.7,641.4 L1011.3,641.8 L1010.8,642.1 Z" stroke="#1e1e1e" stroke-width="2.8" fill="#fff" stroke-linejoin="round"/>
<path d="M922.8,689.7 L922.4,690.0 L921.9,690.1 L921.3,690.2 L920.8,690.2 L920.2,690.2 L919.6,690.0 L919.0,689.8 L918.3,689.6 L917.7,689.2 L917.1,688.9 L916.5,688.4 L915.9,687.9 L915.3,687.3 L914.7,686.7 L914.2,686.1 L913.7,685.4 L913.2,684.7 L912.8,683.9 L912.3,683.1 L912.0,682.3 L911.7,681.5 L911.4,680.7 L911.2,679.9 L911.0,679.1 L910.9,678.4 L910.9,677.6 L910.9,676.9 L910.9,676.2 L911.0,675.5 L911.2,674.9 L911.4,674.3 L911.6,673.8 L912.0,673.3 L912.3,672.9 L912.7,672.5 L913.2,672.3 L928.9,663.5 L929.4,663.3 L929.9,663.2 L930.4,663.1 L931.0,663.1 L931.6,663.1 L932.2,663.2 L932.8,663.4 L933.4,663.7 L934.0,664.0 L934.6,664.4 L935.3,664.9 L935.9,665.4 L936.5,665.9 L937.0,666.5 L937.6,667.2 L938.1,667.9 L938.5,668.6 L939.0,669.4 L939.4,670.1 L939.8,670.9 L940.1,671.7 L940.3,672.5 L940.5,673.3 L940.7,674.1 L940.8,674.9 L940.9,675.7 L940.9,676.4 L940.8,677.1 L940.7,677.8 L940.6,678.4 L940.4,679.0 L940.1,679.5 L939.8,680.0 L939.4,680.4 L939.0,680.7 L938.6,681.0 Z" stroke="#1e1e1e" stroke-width="2" fill="#1a1a1a" stroke-linejoin="round"/>
<ellipse cx="918.0" cy="681.0" rx="10" ry="6.0" transform="rotate(61 918.0 681.0)" stroke="#1e1e1e" stroke-width="2" fill="#2a2a2a"/>
<path d="M1021.6,591.5 L1023.0,590.9 L1024.4,590.5 L1025.9,590.3 L1027.5,590.2 L1029.1,590.4 L1030.8,590.8 L1032.5,591.3 L1034.2,592.0 L1036.0,593.0 L1037.7,594.1 L1039.4,595.3 L1041.1,596.7 L1042.8,598.3 L1044.4,600.0 L1045.9,601.8 L1047.3,603.8 L1048.7,605.8 L1049.9,607.9 L1051.0,610.1 L1052.0,612.3 L1052.9,614.5 L1053.6,616.8 L1054.3,619.0 L1054.7,621.2 L1055.0,623.4 L1055.2,625.5 L1055.2,627.6 L1055.0,629.6 L1054.7,631.4 L1054.3,633.2 L1053.7,634.8 L1053.0,636.3 L1052.1,637.6 L1051.1,638.7 L1050.0,639.7 L1048.8,640.5" stroke="#1e1e1e" stroke-width="4.5" fill="none" />
<path d="M1029.6,587.6 L1031.1,587.4 L1032.7,587.3 L1034.4,587.5 L1036.0,587.8 L1037.8,588.4 L1039.5,589.1 L1041.2,590.1 L1043.0,591.1 L1044.7,592.4 L1046.4,593.8 L1048.0,595.4 L1049.6,597.1 L1051.1,598.9 L1052.6,600.9 L1053.9,602.9 L1055.1,605.0 L1056.3,607.1 L1057.3,609.4 L1058.2,611.6 L1058.9,613.8 L1059.5,616.1 L1060.0,618.3 L1060.3,620.5 L1060.4,622.6 L1060.4,624.7 L1060.3,626.7 L1060.0,628.5 L1059.5,630.3 L1059.0,631.9 L1058.2,633.4 L1057.4,634.7 L1056.4,635.8" stroke="#1e1e1e" stroke-width="2" fill="none" />
<ellipse cx="1004" cy="633" rx="10" ry="6" transform="rotate(61 1004 633)" stroke="#2b2b2b" stroke-width="2.2" fill="#fff"/>
<path d="M1066.0,596.0 L1080.0,589.0 L1083.0,621.0 L1069.0,628.0 Z" stroke="#2b2b2b" stroke-width="2.2" fill="none" stroke-linejoin="round"/>
<path d="M1072.0,594.0 L1075.0,624.0" stroke="#2b2b2b" stroke-width="1.6" fill="none" />
<path d="M1049.8,852.3 L1048.1,853.1 L1046.3,853.6 L1044.3,853.8 L1042.3,853.8 L1040.2,853.6 L1038.0,853.0 L1035.8,852.3 L1033.6,851.3 L1031.4,850.0 L1029.2,848.5 L1027.1,846.9 L1024.9,845.0 L1022.9,842.9 L1020.9,840.7 L1019.0,838.3 L1017.3,835.7 L1015.6,833.1 L1014.1,830.3 L1012.7,827.5 L1011.5,824.6 L1010.5,821.7 L1009.6,818.8 L1008.9,815.9 L1008.4,813.0 L1008.1,810.2 L1007.9,807.5 L1008.0,804.8 L1008.3,802.3 L1008.7,799.9 L1009.3,797.7 L1010.1,795.6 L1011.1,793.8 L1012.3,792.1 L1013.6,790.6 L1015.1,789.4 L1016.7,788.4 L1112.6,738.7 L1114.3,738.0 L1116.2,737.5 L1118.1,737.2 L1120.1,737.3 L1122.2,737.5 L1124.4,738.0 L1126.6,738.8 L1128.8,739.8 L1131.0,741.1 L1133.2,742.5 L1135.4,744.2 L1137.5,746.1 L1139.5,748.2 L1141.5,750.4 L1143.4,752.8 L1145.2,755.3 L1146.8,758.0 L1148.3,760.7 L1149.7,763.6 L1150.9,766.4 L1152.0,769.4 L1152.8,772.3 L1153.5,775.2 L1154.0,778.1 L1154.4,780.9 L1154.5,783.6 L1154.4,786.3 L1154.2,788.8 L1153.7,791.2 L1153.1,793.4 L1152.3,795.5 L1151.3,797.3 L1150.1,799.0 L1148.8,800.4 L1147.3,801.7 L1145.7,802.6 Z" stroke="#1e1e1e" stroke-width="2.8" fill="#fff" stroke-linejoin="round"/>
<path d="M1038.6,848.0 L1037.3,848.6 L1035.9,849.0 L1034.4,849.2 L1032.9,849.1 L1031.3,848.9 L1029.7,848.6 L1028.1,848.0 L1026.4,847.2 L1024.8,846.3 L1023.1,845.2 L1021.5,843.9 L1019.9,842.5 L1018.4,841.0 L1016.9,839.3 L1015.5,837.5 L1014.2,835.6 L1012.9,833.6 L1011.8,831.5 L1010.8,829.4 L1009.8,827.2 L1009.1,825.1 L1008.4,822.9 L1007.9,820.7 L1007.5,818.5 L1007.3,816.4 L1007.2,814.4 L1007.2,812.4 L1007.4,810.5 L1007.7,808.7 L1008.2,807.0 L1008.8,805.5 L1009.6,804.1 L1010.4,802.8 L1011.4,801.8 L1012.5,800.8 L1013.7,800.1 L1056.4,778.0 L1057.7,777.5 L1059.0,777.1 L1060.5,776.9 L1062.0,776.9 L1063.6,777.1 L1065.2,777.5 L1066.9,778.1 L1068.5,778.8 L1070.2,779.8 L1071.8,780.9 L1073.4,782.1 L1075.0,783.5 L1076.6,785.1 L1078.0,786.8 L1079.5,788.6 L1080.8,790.5 L1082.0,792.5 L1083.2,794.5 L1084.2,796.6 L1085.1,798.8 L1085.9,801.0 L1086.5,803.2 L1087.1,805.4 L1087.4,807.5 L1087.7,809.6 L1087.8,811.7 L1087.7,813.7 L1087.5,815.6 L1087.2,817.3 L1086.7,819.0 L1086.1,820.6 L1085.4,822.0 L1084.5,823.2 L1083.5,824.3 L1082.4,825.2 L1081.2,826.0 Z" stroke="#1e1e1e" stroke-width="2" fill="#161616" stroke-linejoin="round"/>
<path d="M1023.0,852.7 L1021.8,853.2 L1020.6,853.6 L1019.3,853.7 L1018.0,853.7 L1016.6,853.5 L1015.1,853.2 L1013.7,852.7 L1012.2,852.0 L1010.7,851.2 L1009.3,850.2 L1007.8,849.1 L1006.4,847.8 L1005.0,846.4 L1003.7,844.9 L1002.5,843.3 L1001.3,841.7 L1000.2,839.9 L999.2,838.1 L998.3,836.2 L997.5,834.3 L996.8,832.3 L996.2,830.4 L995.7,828.4 L995.4,826.5 L995.2,824.6 L995.1,822.8 L995.1,821.1 L995.3,819.4 L995.6,817.8 L996.0,816.3 L996.5,814.9 L997.2,813.7 L998.0,812.6 L998.9,811.6 L999.8,810.8 L1000.9,810.1 L1015.1,802.8 L1016.3,802.3 L1017.5,801.9 L1018.8,801.8 L1020.2,801.8 L1021.6,802.0 L1023.0,802.3 L1024.5,802.8 L1025.9,803.5 L1027.4,804.3 L1028.9,805.3 L1030.3,806.4 L1031.7,807.7 L1033.1,809.1 L1034.4,810.6 L1035.7,812.2 L1036.8,813.8 L1037.9,815.6 L1039.0,817.4 L1039.9,819.3 L1040.7,821.2 L1041.4,823.2 L1042.0,825.1 L1042.4,827.1 L1042.8,829.0 L1043.0,830.9 L1043.1,832.7 L1043.0,834.5 L1042.8,836.1 L1042.5,837.7 L1042.1,839.2 L1041.6,840.6 L1040.9,841.8 L1040.1,842.9 L1039.3,843.9 L1038.3,844.7 L1037.2,845.4 Z" stroke="#1e1e1e" stroke-width="2.5" fill="#fff" stroke-linejoin="round"/>
<path d="M1000.3,861.1 L999.3,861.6 L998.2,861.8 L997.1,862.0 L995.9,862.0 L994.7,861.8 L993.4,861.5 L992.2,861.1 L990.9,860.5 L989.6,859.8 L988.3,858.9 L987.0,857.9 L985.8,856.8 L984.6,855.6 L983.4,854.3 L982.3,852.9 L981.3,851.4 L980.4,849.9 L979.5,848.3 L978.7,846.6 L978.0,845.0 L977.3,843.3 L976.8,841.5 L976.4,839.9 L976.1,838.2 L975.9,836.5 L975.9,834.9 L975.9,833.4 L976.1,831.9 L976.3,830.5 L976.7,829.2 L977.2,828.0 L977.7,826.9 L978.4,826.0 L979.2,825.1 L980.1,824.4 L981.0,823.8 L1002.3,812.8 L1003.3,812.4 L1004.4,812.1 L1005.5,811.9 L1006.7,811.9 L1007.9,812.1 L1009.2,812.4 L1010.5,812.8 L1011.7,813.4 L1013.0,814.1 L1014.3,815.0 L1015.6,816.0 L1016.8,817.1 L1018.0,818.3 L1019.2,819.6 L1020.3,821.0 L1021.3,822.5 L1022.3,824.0 L1023.1,825.6 L1023.9,827.3 L1024.7,829.0 L1025.3,830.7 L1025.8,832.4 L1026.2,834.1 L1026.5,835.7 L1026.7,837.4 L1026.7,839.0 L1026.7,840.5 L1026.6,842.0 L1026.3,843.4 L1025.9,844.7 L1025.4,845.9 L1024.9,847.0 L1024.2,847.9 L1023.4,848.8 L1022.6,849.5 L1021.6,850.1 Z" stroke="#1e1e1e" stroke-width="2" fill="#161616" stroke-linejoin="round"/>
<path d="M986.4,860.4 L985.8,860.7 L985.0,860.9 L984.3,861.0 L983.5,861.0 L982.7,860.9 L981.9,860.7 L981.0,860.4 L980.1,860.0 L979.3,859.5 L978.4,859.0 L977.6,858.3 L976.8,857.6 L976.0,856.8 L975.2,855.9 L974.5,855.0 L973.8,854.0 L973.1,852.9 L972.5,851.9 L972.0,850.8 L971.5,849.6 L971.1,848.5 L970.8,847.4 L970.5,846.3 L970.3,845.1 L970.2,844.0 L970.1,843.0 L970.2,841.9 L970.3,841.0 L970.4,840.0 L970.7,839.2 L971.0,838.4 L971.4,837.6 L971.8,837.0 L972.4,836.4 L972.9,836.0 L973.6,835.6 L984.2,830.0 L984.9,829.8 L985.6,829.6 L986.4,829.5 L987.2,829.5 L988.0,829.6 L988.8,829.8 L989.7,830.1 L990.5,830.5 L991.4,831.0 L992.2,831.5 L993.1,832.2 L993.9,832.9 L994.7,833.7 L995.5,834.6 L996.2,835.5 L996.9,836.5 L997.5,837.5 L998.1,838.6 L998.6,839.7 L999.1,840.8 L999.5,842.0 L999.9,843.1 L1000.1,844.2 L1000.3,845.3 L1000.5,846.4 L1000.5,847.5 L1000.5,848.5 L1000.4,849.5 L1000.2,850.4 L1000.0,851.3 L999.6,852.1 L999.3,852.8 L998.8,853.5 L998.3,854.0 L997.7,854.5 L997.1,854.9 Z" stroke="#1e1e1e" stroke-width="2" fill="#161616" stroke-linejoin="round"/>
<ellipse cx="980.0" cy="848.0" rx="14" ry="8.4" transform="rotate(62.6 980.0 848.0)" stroke="#1e1e1e" stroke-width="2" fill="#161616"/>
<ellipse cx="976" cy="851" rx="6" ry="5" transform="rotate(62 976 851)" stroke="#bbb" stroke-width="2" fill="#333"/>
<path d="M1004.5,808.3 L1005.6,807.8 L1006.9,807.5 L1008.2,807.3 L1009.5,807.3 L1010.9,807.5 L1012.3,807.8 L1013.8,808.3 L1015.3,809.0 L1016.7,809.8 L1018.2,810.8 L1019.7,811.9 L1021.1,813.2 L1022.4,814.6 L1023.7,816.1 L1025.0,817.7 L1026.2,819.4 L1027.3,821.1 L1028.3,823.0 L1029.2,824.8 L1030.0,826.8 L1030.7,828.7 L1031.3,830.7 L1031.8,832.6 L1032.1,834.5 L1032.3,836.4 L1032.4,838.2 L1032.4,840.0 L1032.2,841.7 L1031.9,843.2 L1031.5,844.7 L1030.9,846.1 L1030.3,847.3 L1029.5,848.5 L1028.6,849.4 L1027.6,850.2 L1026.6,850.9" stroke="#1e1e1e" stroke-width="2.2" fill="none" />
<path d="M1009.8,805.5 L1011.0,805.0 L1012.2,804.7 L1013.5,804.5 L1014.8,804.5 L1016.2,804.7 L1017.7,805.1 L1019.1,805.6 L1020.6,806.2 L1022.1,807.1 L1023.5,808.1 L1025.0,809.2 L1026.4,810.4 L1027.8,811.8 L1029.1,813.3 L1030.3,814.9 L1031.5,816.6 L1032.6,818.4 L1033.6,820.2 L1034.5,822.1 L1035.3,824.0 L1036.0,825.9 L1036.6,827.9 L1037.1,829.8 L1037.4,831.7 L1037.6,833.6 L1037.7,835.5 L1037.7,837.2 L1037.5,838.9 L1037.2,840.5 L1036.8,842.0 L1036.3,843.3 L1035.6,844.6 L1034.8,845.7 L1033.9,846.7 L1033.0,847.5 L1031.9,848.1" stroke="#1e1e1e" stroke-width="2.0" fill="none" />
<path d="M1018.5,787.5 L1020.2,786.8 L1022.1,786.3 L1024.0,786.0 L1026.0,786.0 L1028.1,786.3 L1030.3,786.8 L1032.5,787.6 L1034.7,788.6 L1036.9,789.8 L1039.1,791.3 L1041.3,793.0 L1043.4,794.9 L1045.4,797.0 L1047.4,799.2 L1049.3,801.6 L1051.1,804.1 L1052.7,806.8 L1054.2,809.5 L1055.6,812.4 L1056.8,815.2 L1057.9,818.1 L1058.7,821.1 L1059.4,824.0 L1059.9,826.8 L1060.3,829.7 L1060.4,832.4 L1060.3,835.0 L1060.1,837.6 L1059.6,839.9 L1059.0,842.2 L1058.2,844.2 L1057.2,846.1 L1056.0,847.8 L1054.7,849.2 L1053.2,850.4 L1051.6,851.4" stroke="#1e1e1e" stroke-width="2.6" fill="none" />
<path d="M1043.3,774.6 L1045.1,773.9 L1046.9,773.4 L1048.9,773.1 L1050.9,773.1 L1053.0,773.4 L1055.1,773.9 L1057.3,774.7 L1059.5,775.7 L1061.7,777.0 L1063.9,778.4 L1066.1,780.1 L1068.2,782.0 L1070.3,784.1 L1072.3,786.3 L1074.1,788.7 L1075.9,791.2 L1077.6,793.9 L1079.1,796.6 L1080.5,799.5 L1081.7,802.3 L1082.7,805.3 L1083.6,808.2 L1084.3,811.1 L1084.8,814.0 L1085.1,816.8 L1085.2,819.5 L1085.2,822.2 L1084.9,824.7 L1084.5,827.1 L1083.8,829.3 L1083.0,831.3 L1082.0,833.2 L1080.9,834.9 L1079.5,836.3 L1078.1,837.6 L1076.5,838.5" stroke="#2a2a2a" stroke-width="5" fill="none" />
<path d="M1049.6,771.4 L1051.3,770.7 L1053.1,770.2 L1055.1,769.9 L1057.1,769.9 L1059.2,770.2 L1061.4,770.7 L1063.5,771.5 L1065.8,772.5 L1068.0,773.7 L1070.2,775.2 L1072.3,776.9 L1074.4,778.8 L1076.5,780.8 L1078.5,783.1 L1080.4,785.5 L1082.1,788.0 L1083.8,790.7 L1085.3,793.4 L1086.7,796.2 L1087.9,799.1 L1088.9,802.0 L1089.8,805.0 L1090.5,807.9 L1091.0,810.7 L1091.3,813.6 L1091.5,816.3 L1091.4,818.9 L1091.1,821.5 L1090.7,823.8 L1090.1,826.1 L1089.2,828.1 L1088.2,830.0 L1087.1,831.7 L1085.8,833.1 L1084.3,834.3 L1082.7,835.3" stroke="#1e1e1e" stroke-width="2.2" fill="none" />
<path d="M1071.7,759.9 L1073.5,759.1 L1075.3,758.7 L1077.3,758.4 L1079.3,758.4 L1081.4,758.7 L1083.6,759.2 L1085.7,760.0 L1087.9,761.0 L1090.2,762.2 L1092.4,763.7 L1094.5,765.4 L1096.6,767.3 L1098.7,769.3 L1100.7,771.6 L1102.5,774.0 L1104.3,776.5 L1106.0,779.2 L1107.5,781.9 L1108.9,784.7 L1110.1,787.6 L1111.1,790.5 L1112.0,793.4 L1112.7,796.4 L1113.2,799.2 L1113.5,802.0 L1113.7,804.8 L1113.6,807.4 L1113.3,809.9 L1112.9,812.3 L1112.2,814.6 L1111.4,816.6 L1110.4,818.5 L1109.3,820.2 L1108.0,821.6 L1106.5,822.8 L1104.9,823.8" stroke="#2a2a2a" stroke-width="6" fill="none" />
<path d="M1080.6,755.3 L1082.4,754.5 L1084.2,754.1 L1086.2,753.8 L1088.2,753.8 L1090.3,754.1 L1092.4,754.6 L1094.6,755.4 L1096.8,756.4 L1099.0,757.6 L1101.2,759.1 L1103.4,760.8 L1105.5,762.7 L1107.6,764.7 L1109.5,767.0 L1111.4,769.4 L1113.2,771.9 L1114.9,774.6 L1116.4,777.3 L1117.7,780.1 L1119.0,783.0 L1120.0,785.9 L1120.9,788.8 L1121.6,791.8 L1122.1,794.6 L1122.4,797.4 L1122.5,800.2 L1122.5,802.8 L1122.2,805.3 L1121.8,807.7 L1121.1,810.0 L1120.3,812.0 L1119.3,813.9 L1118.2,815.6 L1116.8,817.0 L1115.4,818.2 L1113.8,819.2" stroke="#1e1e1e" stroke-width="2.2" fill="none" />
<path d="M1098.4,746.1 L1100.1,745.3 L1102.0,744.8 L1103.9,744.6 L1105.9,744.6 L1108.0,744.9 L1110.2,745.4 L1112.4,746.2 L1114.6,747.2 L1116.8,748.4 L1119.0,749.9 L1121.2,751.6 L1123.3,753.5 L1125.3,755.5 L1127.3,757.8 L1129.2,760.2 L1131.0,762.7 L1132.6,765.4 L1134.1,768.1 L1135.5,770.9 L1136.7,773.8 L1137.8,776.7 L1138.6,779.6 L1139.3,782.5 L1139.8,785.4 L1140.2,788.2 L1140.3,791.0 L1140.2,793.6 L1140.0,796.1 L1139.5,798.5 L1138.9,800.8 L1138.1,802.8 L1137.1,804.7 L1135.9,806.3 L1134.6,807.8 L1133.1,809.0 L1131.5,810.0" stroke="#1e1e1e" stroke-width="2.2" fill="none" />
<path d="M1110.4,741.0 L1112.1,740.3 L1113.9,739.8 L1115.8,739.6 L1117.7,739.6 L1119.8,739.8 L1121.9,740.3 L1124.0,741.1 L1126.1,742.1 L1128.3,743.3 L1130.4,744.7 L1132.5,746.3 L1134.6,748.2 L1136.6,750.2 L1138.5,752.4 L1140.3,754.7 L1142.1,757.2 L1143.7,759.7 L1145.1,762.4 L1146.5,765.1 L1147.6,767.9 L1148.7,770.8 L1149.5,773.6 L1150.2,776.4 L1150.7,779.2 L1151.0,782.0 L1151.1,784.6 L1151.1,787.2 L1150.8,789.7 L1150.4,792.0 L1149.8,794.1 L1149.0,796.1 L1148.0,798.0 L1146.9,799.6 L1145.6,801.0 L1144.2,802.2 L1142.6,803.1" stroke="#1e1e1e" stroke-width="7" fill="none" />
<path d="M1104.2,744.2 L1105.9,743.5 L1107.7,743.0 L1109.5,742.8 L1111.5,742.8 L1113.6,743.0 L1115.6,743.5 L1117.8,744.3 L1119.9,745.3 L1122.1,746.5 L1124.2,747.9 L1126.3,749.5 L1128.4,751.4 L1130.4,753.4 L1132.3,755.6 L1134.1,757.9 L1135.8,760.4 L1137.4,763.0 L1138.9,765.6 L1140.3,768.4 L1141.4,771.2 L1142.5,774.0 L1143.3,776.8 L1144.0,779.7 L1144.5,782.5 L1144.8,785.2 L1144.9,787.9 L1144.8,790.4 L1144.6,792.9 L1144.2,795.2 L1143.5,797.4 L1142.8,799.4 L1141.8,801.2 L1140.7,802.8 L1139.4,804.2 L1137.9,805.4 L1136.4,806.4" stroke="#333" stroke-width="2" fill="none" />
<path d="M1068.0,840.0 L1085.0,804.0 L1091.0,808.0 L1075.0,845.0 Z" stroke="#2b2b2b" stroke-width="2" fill="#fff" stroke-linejoin="round"/>
<path d="M950.0,923.1 L948.3,923.9 L946.4,924.4 L944.3,924.7 L942.2,924.6 L939.9,924.2 L937.5,923.5 L935.1,922.5 L932.6,921.3 L930.1,919.7 L927.5,917.9 L925.0,915.9 L922.5,913.6 L920.0,911.1 L917.6,908.4 L915.3,905.5 L913.1,902.4 L910.9,899.3 L908.9,896.0 L907.1,892.6 L905.4,889.2 L903.9,885.8 L902.6,882.3 L901.4,878.9 L900.5,875.5 L899.8,872.2 L899.3,868.9 L899.0,865.8 L898.9,862.9 L899.1,860.1 L899.4,857.5 L900.0,855.1 L900.8,853.0 L901.8,851.0 L903.0,849.4 L904.4,848.0 L906.0,846.9 L922.5,837.4 L924.2,836.6 L926.1,836.1 L928.1,835.8 L930.3,835.9 L932.6,836.3 L934.9,837.0 L937.4,838.0 L939.8,839.2 L942.4,840.8 L944.9,842.6 L947.4,844.6 L950.0,846.9 L952.4,849.4 L954.8,852.1 L957.2,855.0 L959.4,858.1 L961.5,861.2 L963.5,864.5 L965.4,867.9 L967.0,871.3 L968.6,874.7 L969.9,878.2 L971.0,881.6 L972.0,885.0 L972.7,888.3 L973.2,891.6 L973.5,894.7 L973.6,897.6 L973.4,900.4 L973.0,903.0 L972.4,905.4 L971.6,907.5 L970.6,909.5 L969.4,911.1 L968.0,912.5 L966.5,913.6 Z" stroke="#1e1e1e" stroke-width="2.5" fill="#141414" stroke-linejoin="round"/>
<ellipse cx="928" cy="885" rx="44" ry="22" transform="rotate(60 928 885)" stroke="#1a1a1a" stroke-width="3" fill="#fff"/>
<ellipse cx="929" cy="884" rx="40" ry="19" transform="rotate(60 929 884)" stroke="#777" stroke-width="2" fill="none"/>
<path d="M919.7,854.9 L921.2,854.8 L922.8,855.0 L924.5,855.4 L926.3,856.0 L928.2,856.9 L930.1,858.0 L932.1,859.3 L934.0,860.8 L936.0,862.6 L938.0,864.5 L940.0,866.6 L941.9,868.8 L943.7,871.2 L945.5,873.7 L947.2,876.3 L948.9,879.0 L950.4,881.7 L951.8,884.5 L953.0,887.3 L954.2,890.1 L955.2,892.9 L956.0,895.7 L956.7,898.3 L957.2,900.9 L957.5,903.4 L957.7,905.7 L957.7,908.0 L957.5,910.0 L957.2,911.9 L956.7,913.6 L956.0,915.0 L955.1,916.3" stroke="#333" stroke-width="2" fill="none" />
<path d="M917.0,849.0 L932.0,856.0" stroke="#e6e6e6" stroke-width="3.5" fill="none" />
<path d="M961.0,879.0 L965.0,894.0" stroke="#e6e6e6" stroke-width="3.5" fill="none" />
<path d="M833.7,969.6 L832.1,970.4 L830.4,970.9 L828.5,971.3 L826.6,971.4 L824.7,971.2 L822.6,970.9 L820.5,970.3 L818.4,969.5 L816.3,968.4 L814.2,967.2 L812.1,965.8 L810.1,964.1 L808.1,962.3 L806.2,960.4 L804.4,958.3 L802.6,956.0 L801.0,953.7 L799.5,951.2 L798.1,948.7 L796.9,946.1 L795.8,943.5 L794.9,940.8 L794.2,938.2 L793.6,935.6 L793.2,933.0 L793.0,930.5 L793.0,928.0 L793.2,925.7 L793.5,923.5 L794.0,921.4 L794.8,919.4 L795.6,917.6 L796.7,916.0 L797.9,914.6 L799.2,913.4 L800.7,912.4 L838.8,890.4 L840.4,889.6 L842.1,889.1 L843.9,888.7 L845.9,888.6 L847.8,888.8 L849.9,889.1 L851.9,889.7 L854.1,890.5 L856.2,891.6 L858.3,892.8 L860.4,894.2 L862.4,895.9 L864.4,897.7 L866.3,899.6 L868.1,901.7 L869.9,904.0 L871.5,906.3 L873.0,908.8 L874.4,911.3 L875.6,913.9 L876.7,916.5 L877.6,919.2 L878.3,921.8 L878.9,924.4 L879.3,927.0 L879.5,929.5 L879.5,932.0 L879.3,934.3 L879.0,936.5 L878.5,938.6 L877.7,940.6 L876.9,942.4 L875.8,944.0 L874.6,945.4 L873.3,946.6 L871.8,947.6 Z" stroke="#1e1e1e" stroke-width="2.6" fill="#fff" stroke-linejoin="round"/>
<ellipse cx="812" cy="944" rx="42" ry="27" transform="rotate(60 812 944)" stroke="#2b2b2b" stroke-width="2.8" fill="#fff"/>
<ellipse cx="816" cy="941" rx="36" ry="22" transform="rotate(60 816 941)" stroke="#2b2b2b" stroke-width="2.2" fill="#fff"/>
<ellipse cx="814" cy="944" rx="18" ry="13" transform="rotate(55 814 944)" stroke="#2b2b2b" stroke-width="0" fill="#141414"/>
<path d="M806.0,925.0 L818.0,921.0 L822.0,930.0 L809.0,934.0 Z" stroke="#2b2b2b" stroke-width="0" fill="#f4f4f4" stroke-linejoin="round"/>
<path d="M812.0,958.0 L823.0,952.0 L829.0,970.0 L820.0,975.0 Z" stroke="#2b2b2b" stroke-width="2" fill="#fff" stroke-linejoin="round"/>
<path d="M794.0,958.0 L830.0,980.0" stroke="#2b2b2b" stroke-width="2.2" fill="none" />
<path d="M780.0,925.0 L792.0,915.0 L798.0,925.0 L786.0,935.0 Z" stroke="#2b2b2b" stroke-width="2.2" fill="#fff" stroke-linejoin="round"/>
<path d="M857.0,1159.0 L868.0,1153.0" stroke="#2b2b2b" stroke-width="2.5" fill="none" />
<path d="M953.8,1145.2 L952.1,1145.9 L950.4,1146.4 L948.6,1146.6 L946.6,1146.6 L944.7,1146.4 L942.6,1145.9 L940.6,1145.2 L938.5,1144.3 L936.4,1143.1 L934.3,1141.8 L932.2,1140.2 L930.2,1138.4 L928.2,1136.5 L926.3,1134.4 L924.5,1132.2 L922.8,1129.8 L921.3,1127.3 L919.8,1124.7 L918.5,1122.1 L917.3,1119.4 L916.3,1116.6 L915.4,1113.9 L914.7,1111.1 L914.2,1108.4 L913.9,1105.8 L913.7,1103.2 L913.8,1100.7 L914.0,1098.3 L914.4,1096.0 L915.0,1093.9 L915.7,1092.0 L916.6,1090.2 L917.7,1088.6 L919.0,1087.2 L920.3,1086.1 L921.8,1085.1 L944.8,1072.9 L946.4,1072.2 L948.2,1071.7 L950.0,1071.5 L951.9,1071.4 L953.9,1071.7 L955.9,1072.1 L958.0,1072.8 L960.1,1073.8 L962.2,1074.9 L964.3,1076.3 L966.4,1077.9 L968.4,1079.6 L970.3,1081.6 L972.2,1083.7 L974.0,1085.9 L975.7,1088.3 L977.3,1090.8 L978.8,1093.4 L980.1,1096.0 L981.3,1098.7 L982.3,1101.4 L983.1,1104.2 L983.8,1106.9 L984.3,1109.6 L984.7,1112.3 L984.8,1114.9 L984.8,1117.4 L984.6,1119.8 L984.2,1122.0 L983.6,1124.1 L982.8,1126.1 L981.9,1127.9 L980.8,1129.4 L979.6,1130.8 L978.2,1132.0 L976.7,1133.0 Z" stroke="#1e1e1e" stroke-width="2.6" fill="#fff" stroke-linejoin="round"/>
<path d="M932.9,1152.8 L931.4,1153.5 L929.9,1153.9 L928.2,1154.2 L926.4,1154.2 L924.6,1154.0 L922.8,1153.5 L920.9,1152.9 L919.0,1152.0 L917.1,1151.0 L915.2,1149.7 L913.3,1148.3 L911.4,1146.7 L909.6,1144.9 L907.9,1143.0 L906.3,1141.0 L904.7,1138.8 L903.3,1136.5 L902.0,1134.2 L900.8,1131.8 L899.7,1129.3 L898.8,1126.8 L898.0,1124.3 L897.3,1121.8 L896.9,1119.3 L896.6,1116.9 L896.4,1114.6 L896.5,1112.3 L896.7,1110.1 L897.0,1108.1 L897.6,1106.1 L898.3,1104.3 L899.1,1102.7 L900.1,1101.3 L901.2,1100.0 L902.5,1099.0 L903.8,1098.1 L925.0,1086.8 L926.5,1086.2 L928.1,1085.7 L929.8,1085.5 L931.5,1085.5 L933.3,1085.7 L935.2,1086.1 L937.1,1086.8 L939.0,1087.6 L940.9,1088.7 L942.8,1089.9 L944.7,1091.3 L946.5,1093.0 L948.3,1094.7 L950.0,1096.6 L951.7,1098.7 L953.2,1100.8 L954.7,1103.1 L956.0,1105.5 L957.2,1107.9 L958.3,1110.4 L959.2,1112.8 L960.0,1115.4 L960.6,1117.9 L961.1,1120.3 L961.4,1122.7 L961.5,1125.1 L961.5,1127.4 L961.3,1129.6 L960.9,1131.6 L960.4,1133.5 L959.7,1135.3 L958.9,1136.9 L957.9,1138.4 L956.8,1139.6 L955.5,1140.7 L954.1,1141.6 Z" stroke="#1e1e1e" stroke-width="2" fill="#141414" stroke-linejoin="round"/>
<path d="M918.2,1155.0 L917.0,1155.5 L915.6,1155.9 L914.2,1156.1 L912.8,1156.1 L911.3,1155.9 L909.7,1155.6 L908.1,1155.0 L906.5,1154.3 L904.9,1153.4 L903.3,1152.4 L901.7,1151.2 L900.2,1149.9 L898.7,1148.4 L897.3,1146.8 L895.9,1145.1 L894.6,1143.2 L893.4,1141.3 L892.2,1139.4 L891.2,1137.3 L890.3,1135.3 L889.6,1133.2 L888.9,1131.1 L888.4,1129.0 L888.0,1126.9 L887.7,1124.9 L887.6,1122.9 L887.6,1121.0 L887.8,1119.2 L888.1,1117.4 L888.6,1115.8 L889.1,1114.3 L889.8,1113.0 L890.7,1111.8 L891.6,1110.7 L892.7,1109.8 L893.8,1109.1 L907.9,1101.6 L909.2,1101.0 L910.5,1100.6 L911.9,1100.5 L913.4,1100.4 L914.9,1100.6 L916.5,1101.0 L918.0,1101.5 L919.7,1102.2 L921.3,1103.1 L922.9,1104.2 L924.4,1105.4 L926.0,1106.7 L927.5,1108.2 L928.9,1109.8 L930.3,1111.5 L931.6,1113.3 L932.8,1115.2 L933.9,1117.2 L934.9,1119.2 L935.8,1121.3 L936.6,1123.4 L937.3,1125.5 L937.8,1127.6 L938.2,1129.7 L938.4,1131.7 L938.5,1133.7 L938.5,1135.6 L938.4,1137.4 L938.0,1139.1 L937.6,1140.7 L937.0,1142.2 L936.3,1143.6 L935.5,1144.8 L934.6,1145.9 L933.5,1146.8 L932.4,1147.5 Z" stroke="#1e1e1e" stroke-width="2" fill="#141414" stroke-linejoin="round"/>
<path d="M903.0,1156.3 L902.1,1156.7 L901.1,1157.0 L900.0,1157.1 L898.9,1157.1 L897.7,1157.0 L896.5,1156.7 L895.3,1156.3 L894.0,1155.8 L892.8,1155.1 L891.6,1154.3 L890.4,1153.4 L889.2,1152.3 L888.0,1151.2 L886.9,1149.9 L885.9,1148.6 L884.9,1147.2 L883.9,1145.8 L883.1,1144.2 L882.3,1142.7 L881.6,1141.1 L881.0,1139.5 L880.5,1137.9 L880.1,1136.3 L879.8,1134.7 L879.6,1133.1 L879.5,1131.6 L879.5,1130.1 L879.7,1128.7 L879.9,1127.4 L880.2,1126.1 L880.7,1125.0 L881.2,1123.9 L881.8,1123.0 L882.6,1122.2 L883.4,1121.5 L884.3,1121.0 L898.4,1113.4 L899.4,1113.0 L900.4,1112.7 L901.5,1112.6 L902.6,1112.6 L903.8,1112.7 L905.0,1113.0 L906.2,1113.4 L907.4,1114.0 L908.6,1114.6 L909.9,1115.4 L911.1,1116.4 L912.3,1117.4 L913.4,1118.5 L914.5,1119.8 L915.6,1121.1 L916.6,1122.5 L917.5,1123.9 L918.4,1125.5 L919.2,1127.0 L919.9,1128.6 L920.5,1130.2 L921.0,1131.8 L921.4,1133.5 L921.7,1135.0 L921.9,1136.6 L921.9,1138.1 L921.9,1139.6 L921.8,1141.0 L921.6,1142.3 L921.2,1143.6 L920.8,1144.7 L920.2,1145.8 L919.6,1146.7 L918.9,1147.5 L918.1,1148.2 L917.2,1148.8 Z" stroke="#1e1e1e" stroke-width="2" fill="#141414" stroke-linejoin="round"/>
<path d="M894.5,1152.9 L893.8,1153.2 L893.2,1153.4 L892.5,1153.5 L891.7,1153.5 L891.0,1153.4 L890.2,1153.2 L889.4,1152.9 L888.6,1152.6 L887.8,1152.1 L887.0,1151.6 L886.2,1151.0 L885.4,1150.3 L884.7,1149.6 L884.0,1148.8 L883.3,1147.9 L882.6,1147.0 L882.0,1146.1 L881.5,1145.1 L881.0,1144.1 L880.5,1143.0 L880.1,1142.0 L879.8,1140.9 L879.5,1139.9 L879.3,1138.9 L879.2,1137.8 L879.2,1136.9 L879.2,1135.9 L879.3,1135.0 L879.4,1134.1 L879.6,1133.3 L879.9,1132.6 L880.3,1131.9 L880.7,1131.3 L881.2,1130.8 L881.7,1130.3 L882.3,1129.9 L889.3,1126.2 L889.9,1125.9 L890.6,1125.7 L891.3,1125.6 L892.0,1125.6 L892.8,1125.7 L893.6,1125.9 L894.4,1126.2 L895.2,1126.5 L896.0,1127.0 L896.8,1127.5 L897.6,1128.1 L898.3,1128.8 L899.1,1129.5 L899.8,1130.3 L900.5,1131.2 L901.1,1132.1 L901.8,1133.0 L902.3,1134.0 L902.8,1135.0 L903.3,1136.1 L903.7,1137.1 L904.0,1138.2 L904.2,1139.2 L904.4,1140.2 L904.6,1141.3 L904.6,1142.2 L904.6,1143.2 L904.5,1144.1 L904.4,1145.0 L904.2,1145.8 L903.9,1146.5 L903.5,1147.2 L903.1,1147.8 L902.6,1148.3 L902.1,1148.8 L901.5,1149.1 Z" stroke="#1e1e1e" stroke-width="2" fill="#fff" stroke-linejoin="round"/>
<path d="M881.6,1158.6 L881.1,1158.8 L880.4,1159.0 L879.8,1159.1 L879.1,1159.1 L878.4,1159.0 L877.7,1158.9 L877.0,1158.6 L876.2,1158.3 L875.5,1157.9 L874.8,1157.4 L874.0,1156.8 L873.3,1156.2 L872.6,1155.5 L872.0,1154.8 L871.3,1154.0 L870.7,1153.2 L870.2,1152.3 L869.6,1151.4 L869.2,1150.4 L868.8,1149.5 L868.4,1148.5 L868.1,1147.6 L867.9,1146.6 L867.7,1145.6 L867.6,1144.7 L867.5,1143.8 L867.5,1142.9 L867.6,1142.1 L867.7,1141.3 L867.9,1140.5 L868.2,1139.8 L868.5,1139.2 L868.9,1138.6 L869.3,1138.2 L869.8,1137.7 L870.4,1137.4 L882.7,1130.8 L883.3,1130.6 L883.9,1130.4 L884.6,1130.3 L885.2,1130.3 L885.9,1130.4 L886.7,1130.6 L887.4,1130.8 L888.1,1131.1 L888.9,1131.5 L889.6,1132.0 L890.3,1132.6 L891.0,1133.2 L891.7,1133.9 L892.4,1134.6 L893.0,1135.4 L893.6,1136.3 L894.2,1137.1 L894.7,1138.0 L895.2,1139.0 L895.6,1139.9 L896.0,1140.9 L896.3,1141.9 L896.5,1142.8 L896.7,1143.8 L896.8,1144.7 L896.9,1145.6 L896.8,1146.5 L896.8,1147.4 L896.6,1148.2 L896.4,1148.9 L896.2,1149.6 L895.8,1150.2 L895.4,1150.8 L895.0,1151.3 L894.5,1151.7 L894.0,1152.0 Z" stroke="#1e1e1e" stroke-width="2" fill="#141414" stroke-linejoin="round"/>
<ellipse cx="876.0" cy="1148.0" rx="12" ry="7.2" transform="rotate(62 876.0 1148.0)" stroke="#1e1e1e" stroke-width="2" fill="#141414"/>
<path d="M902.8,1106.1 L904.3,1106.3 L905.9,1106.6 L907.5,1107.2 L909.1,1107.9 L910.7,1108.7 L912.3,1109.8 L913.8,1111.0 L915.4,1112.3 L916.9,1113.8 L918.3,1115.4 L919.7,1117.1 L921.0,1119.0 L922.2,1120.9 L923.3,1122.8 L924.3,1124.9 L925.2,1126.9 L926.0,1129.0 L926.7,1131.1 L927.2,1133.2 L927.6,1135.3 L927.8,1137.3 L927.9,1139.3 L927.9,1141.2 L927.8,1143.0 L927.5,1144.8 L927.0,1146.4 L926.4,1147.9 L925.7,1149.2" stroke="#bbb" stroke-width="2" fill="none" />
<path d="M913.9,1094.9 L915.7,1095.1 L917.5,1095.5 L919.4,1096.2 L921.3,1097.0 L923.2,1098.1 L925.1,1099.3 L927.0,1100.7 L928.9,1102.3 L930.6,1104.1 L932.4,1106.0 L934.0,1108.1 L935.6,1110.2 L937.0,1112.5 L938.3,1114.9 L939.5,1117.3 L940.6,1119.7 L941.5,1122.2 L942.3,1124.7 L942.9,1127.2 L943.4,1129.7 L943.7,1132.1 L943.8,1134.5 L943.8,1136.8 L943.6,1138.9 L943.3,1141.0 L942.7,1142.9 L942.0,1144.7 L941.2,1146.3" stroke="#bbb" stroke-width="2" fill="none" />
<path d="M919.2,1092.1 L921.0,1092.3 L922.8,1092.7 L924.7,1093.3 L926.6,1094.2 L928.5,1095.2 L930.4,1096.5 L932.3,1097.9 L934.2,1099.5 L935.9,1101.3 L937.7,1103.2 L939.3,1105.3 L940.9,1107.4 L942.3,1109.7 L943.6,1112.0 L944.8,1114.5 L945.9,1116.9 L946.8,1119.4 L947.6,1121.9 L948.2,1124.4 L948.7,1126.9 L949.0,1129.3 L949.1,1131.7 L949.1,1134.0 L948.9,1136.1 L948.6,1138.2 L948.0,1140.1 L947.3,1141.9 L946.5,1143.5" stroke="#bbb" stroke-width="2" fill="none" />
<path d="M892.0,1118.2 L893.2,1118.3 L894.4,1118.6 L895.6,1119.0 L896.8,1119.6 L898.0,1120.3 L899.3,1121.1 L900.5,1122.0 L901.7,1123.0 L902.8,1124.2 L903.9,1125.4 L905.0,1126.7 L906.0,1128.1 L906.9,1129.6 L907.8,1131.1 L908.6,1132.7 L909.3,1134.3 L909.9,1135.9 L910.4,1137.5 L910.8,1139.1 L911.1,1140.7 L911.3,1142.2 L911.3,1143.8 L911.3,1145.2 L911.2,1146.6 L911.0,1148.0 L910.6,1149.2 L910.2,1150.4 L909.6,1151.4" stroke="#888" stroke-width="1.8" fill="none" />
<path d="M940.0,1083.0 L958.0,1079.0 L961.0,1090.0 L948.0,1096.0 Z" stroke="#2b2b2b" stroke-width="0" fill="#141414" stroke-linejoin="round"/>
<defs><g id="anc"><path d="M1093,424 L1143,392 C1147,390 1149,395 1146,398 L1098,432 Z" stroke="#1e1e1e" stroke-width="1.5" fill="#1a1a1a" stroke-linejoin="round" stroke-linecap="round"/><path d="M1095,423 L1146,393" stroke="#1a1a1a" stroke-width="6" fill="none" stroke-linejoin="round" stroke-linecap="round"/><ellipse cx="1089" cy="429.5" rx="6.5" ry="10" transform="rotate(35 1089 429.5)" stroke="#1a1a1a" stroke-width="3" fill="#777"/><ellipse cx="1089" cy="429.5" rx="2.5" ry="5" transform="rotate(35 1089 429.5)" stroke="#2b2b2b" stroke-width="0" fill="#bbb"/><path d="M1100.5,416.0 L1103.5,421.0" stroke="#666" stroke-width="0.9" fill="none" /><path d="M1106.0,412.6 L1109.0,417.6" stroke="#666" stroke-width="0.9" fill="none" /><path d="M1111.5,409.2 L1114.5,414.2" stroke="#666" stroke-width="0.9" fill="none" /><path d="M1117.0,405.8 L1120.0,410.8" stroke="#666" stroke-width="0.9" fill="none" /><path d="M1122.5,402.4 L1125.5,407.4" stroke="#666" stroke-width="0.9" fill="none" /><path d="M1128.0,399.0 L1131.0,404.0" stroke="#666" stroke-width="0.9" fill="none" /><path d="M1133.5,395.6 L1136.5,400.6" stroke="#666" stroke-width="0.9" fill="none" /><path d="M1139.0,392.2 L1142.0,397.2" stroke="#666" stroke-width="0.9" fill="none" /><path d="M1151,382 L1170,371 C1176,368 1180,378 1176,384 L1158,396 C1152,399 1146,388 1151,382 Z" stroke="#1e1e1e" stroke-width="2.4" fill="#fff" stroke-linejoin="round" stroke-linecap="round"/><ellipse cx="1154" cy="389.5" rx="5.5" ry="8" transform="rotate(30 1154 389.5)" stroke="#2b2b2b" stroke-width="2.4" fill="#fff"/><ellipse cx="1154" cy="389.5" rx="2.5" ry="4" transform="rotate(30 1154 389.5)" stroke="#2b2b2b" stroke-width="1.5" fill="#fff"/><path d="M1168,372 L1212,346 C1220,342 1226,356 1219,362 L1178,386 Z" stroke="#1e1e1e" stroke-width="2" fill="#222" stroke-linejoin="round" stroke-linecap="round"/><path d="M1186.0,363.0 C1189.0,364.0 1190.0,372.0 1188.0,375.0" stroke="#9a9a9a" stroke-width="1.5" fill="none" stroke-linejoin="round" stroke-linecap="round"/><path d="M1191.6,359.7 C1194.6,360.7 1195.6,368.7 1193.6,371.7" stroke="#9a9a9a" stroke-width="1.5" fill="none" stroke-linejoin="round" stroke-linecap="round"/><path d="M1197.2,356.4 C1200.2,357.4 1201.2,365.4 1199.2,368.4" stroke="#9a9a9a" stroke-width="1.5" fill="none" stroke-linejoin="round" stroke-linecap="round"/><path d="M1202.8,353.1 C1205.8,354.1 1206.8,362.1 1204.8,365.1" stroke="#9a9a9a" stroke-width="1.5" fill="none" stroke-linejoin="round" stroke-linecap="round"/><path d="M1208.4,349.8 C1211.4,350.8 1212.4,358.8 1210.4,361.8" stroke="#9a9a9a" stroke-width="1.5" fill="none" stroke-linejoin="round" stroke-linecap="round"/><path d="M1214.0,346.5 C1217.0,347.5 1218.0,355.5 1216.0,358.5" stroke="#9a9a9a" stroke-width="1.5" fill="none" stroke-linejoin="round" stroke-linecap="round"/><path d="M1170,368 L1176,378 M1174,387 L1182,382" stroke="#1e1e1e" stroke-width="2.4" fill="none" stroke-linejoin="round" stroke-linecap="round"/></g></defs>
<path d="M1132.8,413.0 L1132.8,507.4 L1258.8,581.4" stroke="#2b2b2b" stroke-width="2.6" fill="none" />
<use href="#anc"/>
<use href="#anc" transform="translate(406,300)"/>
<path d="M1198.4,420.3 C1198,412 1200,402 1204,396 L1214.7,382.6 C1222,379 1228,378 1234.2,377.9 C1240,380 1243,382 1245.9,384.9 L1258,396 L1262,426 L1236.6,450.1 C1230,448 1226,446 1223.5,444.5 L1209.6,436.6 C1204,432 1200,426 1198.4,420.3 Z" stroke="#1e1e1e" stroke-width="2.6" fill="#fff" stroke-linejoin="round" stroke-linecap="round"/>
<path d="M1212.4,393.8 C1211.3,394.5 1207.7,395.3 1206.0,398.0 C1204.3,400.7 1202.5,406.3 1202.0,410.0 C1201.5,413.7 1201.3,417.1 1203.0,420.0 C1204.7,422.9 1209.4,426.5 1211.9,427.3 C1214.4,428.1 1216.6,426.0 1218.0,425.0 C1219.4,424.0 1219.6,423.7 1220.3,421.2 C1221.0,418.7 1221.6,413.9 1222.0,410.0 C1222.4,406.1 1224.2,400.7 1222.6,398.0 C1221.0,395.3 1214.1,394.5 1212.4,393.8" stroke="#2b2b2b" stroke-width="2.4" fill="none" stroke-linejoin="round" stroke-linecap="round" />
<path d="M1214.7,382.6 L1212.4,393.8" stroke="#2b2b2b" stroke-width="2.2" fill="none" />
<path d="M1222.6,398.0 L1250.5,393.3" stroke="#2b2b2b" stroke-width="2.2" fill="none" />
<path d="M1222.6,398.0 L1223.5,444.5" stroke="#2b2b2b" stroke-width="2.4" fill="none" />
<path d="M1203.0,420.0 L1209.6,436.6" stroke="#2b2b2b" stroke-width="2.0" fill="none" />
<path d="M1250.5,394.2 C1248.8,395.2 1243.1,397.4 1240.0,400.0 C1236.9,402.6 1234.3,406.3 1232.0,409.6 C1229.7,412.9 1227.2,416.6 1226.0,420.0 C1224.8,423.4 1225.2,426.7 1225.0,430.0 C1224.8,433.3 1225.0,438.2 1225.0,439.9" stroke="#1e1e1e" stroke-width="4" fill="none" stroke-linejoin="round" stroke-linecap="round" />
<path d="M1257.5,397.0 C1256.2,398.0 1252.3,400.5 1250.0,403.0 C1247.7,405.5 1245.6,408.7 1243.6,411.9 C1241.6,415.1 1239.2,418.6 1238.0,422.0 C1236.8,425.4 1236.8,427.5 1236.6,432.0 C1236.4,436.5 1236.6,446.3 1236.6,449.2" stroke="#2b2b2b" stroke-width="2.4" fill="none" stroke-linejoin="round" stroke-linecap="round" />
<path d="M1232.0,414.2 L1240.3,419.8" stroke="#2b2b2b" stroke-width="2" fill="none" />
<path d="M1226.3,425.9 L1236.6,429.6" stroke="#2b2b2b" stroke-width="2" fill="none" />
<path d="M1254,396 L1384,462 L1392,479 L1360,521 L1330,507" stroke="#1e1e1e" stroke-width="2.6" fill="#fff" stroke-linejoin="round" stroke-linecap="round"/>
<path d="M1237,452 L1254,396 L1330,440 Z" stroke="#1e1e1e" stroke-width="0" fill="#fff" stroke-linejoin="round" stroke-linecap="round"/>
<ellipse cx="1371" cy="491" rx="32" ry="17.5" transform="rotate(-60 1371 491)" stroke="#2b2b2b" stroke-width="3" fill="#fff"/>
<ellipse cx="1372" cy="490" rx="27" ry="13.5" transform="rotate(-60 1372 490)" stroke="#2b2b2b" stroke-width="2.4" fill="#fff"/>
<path d="M1385.5,466.6 L1386.9,467.7 L1388.1,469.2 L1388.9,471.0 L1389.5,473.1 L1389.8,475.6 L1389.8,478.2 L1389.5,481.1 L1388.9,484.2 L1388.0,487.3 L1386.8,490.5 L1385.4,493.6 L1383.7,496.8 L1381.8,499.7 L1379.8,502.6 L1377.6,505.2 L1375.4,507.5 L1373.1,509.6 L1370.7,511.3 L1368.4,512.7 L1366.2,513.6 L1364.0,514.2 L1362.0,514.3 L1360.1,514.1 L1358.5,513.4 L1355.0,510.5 L1355.7,510.7 L1356.6,510.4 L1357.6,509.8 L1358.9,508.8 L1360.3,507.4 L1361.9,505.7 L1363.5,503.7 L1365.2,501.4 L1367.0,498.9 L1368.8,496.2 L1370.6,493.4 L1372.3,490.5 L1374.0,487.5 L1375.5,484.6 L1377.0,481.7 L1378.2,478.9 L1379.3,476.3 L1380.3,473.8 L1380.9,471.7 L1381.4,469.8 L1381.7,468.2 L1381.7,466.9 L1381.5,466.0 L1381.0,465.5 Z" stroke="#2b2b2b" stroke-width="1" fill="#262626" stroke-linejoin="round"/>
<path d="M1237,452 L1287,423 L1309,437 L1330,449 C1325,468 1322,485 1323,500 L1277,527 L1237,452 Z" stroke="#1e1e1e" stroke-width="2.8" fill="#fff" stroke-linejoin="round" stroke-linecap="round"/>
<path d="M1323,500 L1349,515" stroke="#1e1e1e" stroke-width="2.6" fill="none" stroke-linejoin="round" stroke-linecap="round"/>
<ellipse cx="1247" cy="495.5" rx="45" ry="28" transform="rotate(60 1247 495.5)" stroke="#2b2b2b" stroke-width="3" fill="#fff"/>
<ellipse cx="1249" cy="494.5" rx="39" ry="23" transform="rotate(60 1249 494.5)" stroke="#2b2b2b" stroke-width="2.8" fill="#fff"/>
<path d="M1262.7,530.1 L1260.0,530.1 L1257.1,529.8 L1254.1,529.0 L1251.1,527.8 L1248.1,526.2 L1245.1,524.2 L1242.1,521.9 L1239.2,519.2 L1236.4,516.2 L1233.8,513.0 L1231.3,509.6 L1229.1,506.0 L1227.1,502.3 L1225.3,498.4 L1223.9,494.5 L1222.7,490.6 L1221.9,486.8 L1221.3,483.1 L1221.1,479.5 L1221.3,476.0 L1221.7,472.8 L1222.5,469.9 L1223.6,467.2 L1225.0,464.9 L1228.4,464.2 L1227.3,466.3 L1226.5,468.7 L1226.1,471.4 L1225.9,474.4 L1226.0,477.6 L1226.4,481.0 L1227.1,484.5 L1228.1,488.2 L1229.3,491.9 L1230.8,495.7 L1232.6,499.4 L1234.5,503.0 L1236.7,506.5 L1239.0,509.9 L1241.5,513.1 L1244.1,516.0 L1246.8,518.7 L1249.5,521.1 L1252.3,523.1 L1255.0,524.8 L1257.7,526.1 L1260.3,527.1 L1262.7,527.6 L1265.1,527.7 Z" stroke="#2b2b2b" stroke-width="1" fill="#2a2a2a" stroke-linejoin="round"/>
<path d="M1268.8,522.7 L1267.2,522.2 L1265.5,521.5 L1263.8,520.6 L1262.0,519.4 L1260.2,518.0 L1258.3,516.4 L1256.4,514.6 L1254.5,512.7 L1252.6,510.5 L1250.8,508.2 L1248.9,505.8 L1247.2,503.3 L1245.5,500.7 L1243.9,498.0 L1242.4,495.3 L1240.9,492.5 L1239.6,489.7 L1238.5,486.9 L1237.4,484.2 L1236.5,481.5 L1235.7,478.9 L1235.1,476.3 L1234.7,473.9 L1234.4,471.6 L1234.3,469.5 L1234.3,467.5 L1234.6,465.7 L1234.9,464.1" stroke="#2b2b2b" stroke-width="2" fill="none" />
<path d="M1267,535 C1270,546 1279,549 1290,555 C1300,558 1318,558 1333,550 C1342,543 1347,535 1348,528" stroke="#1e1e1e" stroke-width="2.6" fill="#fff" stroke-linejoin="round" stroke-linecap="round"/>
<path d="M1278,551 L1278,612 L1335,616 L1335,550 C1318,558 1300,558 1278,551 Z" stroke="#1e1e1e" stroke-width="0" fill="#fff" stroke-linejoin="round" stroke-linecap="round"/>
<path d="M1278.0,551.0 L1278.0,612.0" stroke="#2b2b2b" stroke-width="2.8" fill="none" />
<path d="M1335.0,550.0 L1335.0,616.0" stroke="#2b2b2b" stroke-width="2.8" fill="none" />
<path d="M1188,600 L1222,611 L1264,638 L1276,611 L1340,616 L1372,640 L1399,660 L1399,694 L1376,688 L1340,676 L1315,690 L1315,752 L1258,752 L1258,700 L1208,666 Z" stroke="#1e1e1e" stroke-width="2.6" fill="#fff" stroke-linejoin="round" stroke-linecap="round"/>
<path d="M1264,638 L1200,670" stroke="#1e1e1e" stroke-width="2.4" fill="none" stroke-linejoin="round" stroke-linecap="round"/>
<path d="M1275,611 C1282,620 1300,622 1340,616" stroke="#1e1e1e" stroke-width="2.4" fill="none" stroke-linejoin="round" stroke-linecap="round"/>
<path d="M1125,620 L1130,598 L1145,586 L1163,583 L1178,593 L1181,603 L1186,632 L1178,650 L1160,654 L1150,648 Z" stroke="#1e1e1e" stroke-width="2.6" fill="#fff" stroke-linejoin="round" stroke-linecap="round"/>
<path d="M1130,598 L1150,606 L1163,583 M1150,606 L1152,630 L1150,648 M1152,630 L1125,620" stroke="#1e1e1e" stroke-width="2.2" fill="none" stroke-linejoin="round" stroke-linecap="round"/>
<path d="M1158,598 C1168,590 1185,596 1190,610 C1196,628 1190,650 1180,660" stroke="#262626" stroke-width="4.5" fill="none" stroke-linejoin="round" stroke-linecap="round"/>
<path d="M1160,640 L1164,614 L1182,604 L1200,606 L1212,622 L1206,660 L1190,672 L1172,668 Z" stroke="#1e1e1e" stroke-width="2.6" fill="#fff" stroke-linejoin="round" stroke-linecap="round"/>
<path d="M1164,614 L1184,624 L1200,606 M1184,624 L1182,662 L1190,672" stroke="#1e1e1e" stroke-width="2.2" fill="none" stroke-linejoin="round" stroke-linecap="round"/>
<path d="M1200,606 C1214,602 1226,612 1230,628 C1234,646 1226,662 1214,670" stroke="#2a2a2a" stroke-width="4" fill="none" stroke-linejoin="round" stroke-linecap="round"/>
<path d="M1208,668 C1220,664 1226,652 1228,636" stroke="#1e1e1e" stroke-width="2.2" fill="none" stroke-linejoin="round" stroke-linecap="round"/>
<path d="M1221,643 L1221,595.5 C1221,581 1246,581 1246,595.5 L1246,643 Z" stroke="#1e1e1e" stroke-width="2.6" fill="#fff" stroke-linejoin="round" stroke-linecap="round"/>
<path d="M1226,641 L1226,597.5 M1241,597.5 L1241,641" stroke="#1e1e1e" stroke-width="1.8" fill="none" stroke-linejoin="round" stroke-linecap="round"/>
<ellipse cx="1233.5" cy="592.5" rx="3" ry="3" transform="rotate(0 1233.5 592.5)" stroke="#2b2b2b" stroke-width="1.5" fill="#fff"/>
<path d="M1259,633 L1259,580.0 C1259,568 1279,568 1279,580.0 L1279,633 Z" stroke="#1e1e1e" stroke-width="2.6" fill="#fff" stroke-linejoin="round" stroke-linecap="round"/>
<path d="M1264,631 L1264,582.0 M1274,582.0 L1274,631" stroke="#1e1e1e" stroke-width="1.8" fill="none" stroke-linejoin="round" stroke-linecap="round"/>
<ellipse cx="1269.0" cy="577.0" rx="3" ry="3" transform="rotate(0 1269.0 577.0)" stroke="#2b2b2b" stroke-width="1.5" fill="#fff"/>
<path d="M1305,694 L1305,639.5 C1305,626 1328,626 1328,639.5 L1328,694 Z" stroke="#1e1e1e" stroke-width="2.6" fill="#fff" stroke-linejoin="round" stroke-linecap="round"/>
<path d="M1310,692 L1310,641.5 M1323,641.5 L1323,692" stroke="#1e1e1e" stroke-width="1.8" fill="none" stroke-linejoin="round" stroke-linecap="round"/>
<ellipse cx="1316.5" cy="636.5" rx="3" ry="3" transform="rotate(0 1316.5 636.5)" stroke="#2b2b2b" stroke-width="1.5" fill="#fff"/>
<path d="M1378,694 L1378,649.0 C1378,636 1400,636 1400,649.0 L1400,694 Z" stroke="#1e1e1e" stroke-width="2.6" fill="#fff" stroke-linejoin="round" stroke-linecap="round"/>
<path d="M1383,692 L1383,651.0 M1395,651.0 L1395,692" stroke="#1e1e1e" stroke-width="1.8" fill="none" stroke-linejoin="round" stroke-linecap="round"/>
<ellipse cx="1389.0" cy="646.0" rx="3" ry="3" transform="rotate(0 1389.0 646.0)" stroke="#2b2b2b" stroke-width="1.5" fill="#fff"/>
<path d="M1340,616 L1360,640 L1380,680 L1362,684 Z" stroke="#1e1e1e" stroke-width="2" fill="#fff" stroke-linejoin="round" stroke-linecap="round"/>
<path d="M1330,660 L1378,684 M1345,650 L1378,672" stroke="#444" stroke-width="2.2" fill="none" stroke-linejoin="round" stroke-linecap="round"/>
<path d="M1232.0,758.4 L1230.0,759.4 L1227.8,760.1 L1225.4,760.5 L1223.0,760.6 L1220.5,760.5 L1217.9,760.0 L1215.3,759.3 L1212.6,758.2 L1209.9,756.9 L1207.2,755.4 L1204.6,753.5 L1202.0,751.5 L1199.4,749.2 L1197.0,746.7 L1194.7,744.0 L1192.4,741.1 L1190.4,738.1 L1188.4,735.0 L1186.7,731.8 L1185.1,728.5 L1183.8,725.2 L1182.6,721.8 L1181.7,718.4 L1181.0,715.1 L1180.5,711.8 L1180.2,708.6 L1180.2,705.5 L1180.4,702.5 L1180.9,699.7 L1181.5,697.0 L1182.4,694.5 L1183.6,692.3 L1184.9,690.2 L1186.4,688.4 L1188.1,686.9 L1190.0,685.6 L1200.4,679.6 L1202.4,678.6 L1204.6,677.9 L1206.9,677.5 L1209.4,677.4 L1211.9,677.5 L1214.5,678.0 L1217.1,678.7 L1219.8,679.8 L1222.5,681.1 L1225.2,682.6 L1227.8,684.5 L1230.4,686.5 L1233.0,688.8 L1235.4,691.3 L1237.7,694.0 L1240.0,696.9 L1242.0,699.9 L1243.9,703.0 L1245.7,706.2 L1247.2,709.5 L1248.6,712.8 L1249.8,716.2 L1250.7,719.6 L1251.4,722.9 L1251.9,726.2 L1252.2,729.4 L1252.2,732.5 L1252.0,735.5 L1251.5,738.3 L1250.9,741.0 L1250.0,743.5 L1248.8,745.7 L1247.5,747.8 L1246.0,749.6 L1244.3,751.1 L1242.4,752.4 Z" stroke="#1e1e1e" stroke-width="2" fill="#141414" stroke-linejoin="round"/>
<ellipse cx="1211" cy="722" rx="42" ry="26" transform="rotate(60 1211 722)" stroke="#141414" stroke-width="8" fill="#fff"/>
<path d="M1231.0,749.4 L1229.5,750.2 L1227.9,750.6 L1226.2,750.9 L1224.3,750.9 L1222.5,750.7 L1220.5,750.2 L1218.5,749.6 L1216.4,748.7 L1214.4,747.5 L1212.3,746.2 L1210.3,744.7 L1208.2,742.9 L1206.3,741.1 L1204.4,739.0 L1202.5,736.8 L1200.7,734.5 L1199.1,732.0 L1197.5,729.5 L1196.1,726.9 L1194.8,724.2 L1193.7,721.6 L1192.7,718.9 L1191.9,716.2 L1191.2,713.5 L1190.8,710.9 L1190.5,708.4 L1190.3,705.9 L1190.4,703.6 L1190.6,701.3 L1191.1,699.2 L1191.6,697.3 L1192.4,695.6 L1193.3,694.0 L1194.4,692.7 L1195.6,691.5 L1197.0,690.6" stroke="#2b2b2b" stroke-width="2.4" fill="none" />
<path d="M1231.8,746.1 L1230.3,745.6 L1228.7,745.0 L1227.0,744.1 L1225.2,743.1 L1223.4,741.8 L1221.6,740.3 L1219.8,738.6 L1218.0,736.8 L1216.2,734.8 L1214.4,732.6 L1212.7,730.4 L1211.0,728.0 L1209.4,725.5 L1207.9,723.0 L1206.4,720.4 L1205.1,717.8 L1203.9,715.1 L1202.8,712.5 L1201.8,709.9 L1201.0,707.3 L1200.3,704.8 L1199.8,702.4 L1199.4,700.1 L1199.2,697.9 L1199.1,695.9 L1199.2,694.0 L1199.5,692.3 L1199.9,690.7 L1200.4,689.4" stroke="#2b2b2b" stroke-width="2.2" fill="none" />
<path d="M1258,700 L1302,677 L1318,690 L1318,748 L1284,758 L1258,748 Z" stroke="#1e1e1e" stroke-width="2.4" fill="#fff" stroke-linejoin="round" stroke-linecap="round"/>
<path d="M1270,758 L1270,714 L1280,708 L1292,714 L1292,756 M1270,714 L1292,714 M1292,714 L1318,700" stroke="#1e1e1e" stroke-width="2" fill="none" stroke-linejoin="round" stroke-linecap="round"/>
<ellipse cx="1347" cy="724" rx="28" ry="19" transform="rotate(62 1347 724)" stroke="#141414" stroke-width="8" fill="#fff"/>
<ellipse cx="1350" cy="722" rx="16" ry="11" transform="rotate(62 1350 722)" stroke="#333" stroke-width="3" fill="#fff"/>
<path d="M1282.0,752.0 L1282.0,790.0" stroke="#2b2b2b" stroke-width="2.6" fill="none" />
<path d="M1339.0,752.0 L1339.0,790.0" stroke="#2b2b2b" stroke-width="2.6" fill="none" />
<path d="M1269,798 C1270,786 1276,782 1282,781 L1282,800 C1290,808 1330,810 1339,800 L1339,781 C1346,783 1352,788 1352,800 L1352,960 L1269,960 Z" stroke="#1e1e1e" stroke-width="2.6" fill="#fff" stroke-linejoin="round" stroke-linecap="round"/>
<path d="M1271,800 C1285,812 1335,814 1350,802" stroke="#2a2a2a" stroke-width="4.5" fill="none" stroke-linejoin="round" stroke-linecap="round"/>
<path d="M1287,822 L1287,848 L1313,852 L1313,820 M1329,826 L1329,846 L1347,838 L1347,820" stroke="#1e1e1e" stroke-width="2.4" fill="none" stroke-linejoin="round" stroke-linecap="round"/>
<path d="M1287,930 L1287,960 L1313,962 L1313,932 M1329,936 L1329,958 L1347,952 L1347,922" stroke="#1e1e1e" stroke-width="2.4" fill="none" stroke-linejoin="round" stroke-linecap="round"/>
<path d="M1276,955 C1290,968 1330,972 1350,958" stroke="#2a2a2a" stroke-width="4" fill="none" stroke-linejoin="round" stroke-linecap="round"/>
<path d="M1281,966 C1292,980 1325,982 1346,968 L1340,978 C1320,986 1292,984 1284,975 Z" stroke="#1e1e1e" stroke-width="2.4" fill="#333" stroke-linejoin="round" stroke-linecap="round"/>
<path d="M1268,848 L1217,878 L1257,955 L1300,920 C1315,910 1330,895 1330,888 C1330,882 1326,880 1324,879 Z" stroke="#1e1e1e" stroke-width="2.6" fill="#fff" stroke-linejoin="round" stroke-linecap="round"/>
<path d="M1269,848 L1324,879" stroke="#1e1e1e" stroke-width="2.4" fill="none" stroke-linejoin="round" stroke-linecap="round"/>
<path d="M1178,890 L1232,860 C1252,866 1262,900 1260,934 L1206,966 C1178,962 1166,930 1178,890 Z" stroke="#1e1e1e" stroke-width="2" fill="#1e1e1e" stroke-linejoin="round" stroke-linecap="round"/>
<path d="M1198,884.0 C1208,898.0 1211,922.0 1208,944.0" stroke="#5a5a5a" stroke-width="1.1" fill="none" stroke-linejoin="round" stroke-linecap="round"/>
<path d="M1206,879.6 C1216,893.6 1219,917.6 1216,939.6" stroke="#5a5a5a" stroke-width="1.1" fill="none" stroke-linejoin="round" stroke-linecap="round"/>
<path d="M1214,875.2 C1224,889.2 1227,913.2 1224,935.2" stroke="#5a5a5a" stroke-width="1.1" fill="none" stroke-linejoin="round" stroke-linecap="round"/>
<path d="M1222,870.8 C1232,884.8 1235,908.8 1232,930.8" stroke="#5a5a5a" stroke-width="1.1" fill="none" stroke-linejoin="round" stroke-linecap="round"/>
<path d="M1230,866.4 C1240,880.4 1243,904.4 1240,926.4" stroke="#5a5a5a" stroke-width="1.1" fill="none" stroke-linejoin="round" stroke-linecap="round"/>
<path d="M1238,862.0 C1248,876.0 1251,900.0 1248,922.0" stroke="#5a5a5a" stroke-width="1.1" fill="none" stroke-linejoin="round" stroke-linecap="round"/>
<ellipse cx="1195" cy="931" rx="24" ry="34" transform="rotate(-24 1195 931)" stroke="#111" stroke-width="3" fill="#2a2a2a"/>
<ellipse cx="1195" cy="931" rx="19" ry="29" transform="rotate(-24 1195 931)" stroke="#777" stroke-width="1.2" fill="#333"/>
<ellipse cx="1199" cy="929" rx="12.5" ry="24" transform="rotate(-24 1199 929)" stroke="#2b2b2b" stroke-width="0" fill="#fff"/>
<path d="M1290,1012 C1290,1000 1330,1000 1331,1012 L1331,1022 C1331,1034 1290,1034 1290,1022 Z" stroke="#1e1e1e" stroke-width="2.6" fill="#fff" stroke-linejoin="round" stroke-linecap="round"/>
<path d="M1291,1014 C1296,1024 1326,1024 1330,1014" stroke="#333" stroke-width="4" fill="none" stroke-linejoin="round" stroke-linecap="round"/>
<path d="M1292,1020 C1300,1028 1322,1028 1330,1020" stroke="#555" stroke-width="1.6" fill="none" stroke-linejoin="round" stroke-linecap="round"/>
<ellipse cx="1310.5" cy="1008" rx="14" ry="5" transform="rotate(0 1310.5 1008)" stroke="#444" stroke-width="1.8" fill="#fff"/>
<path d="M1280,1052 L1292,1038 L1330,1038 L1342,1052 L1342,1078 L1330,1092 L1292,1092 L1280,1078 Z" stroke="#1e1e1e" stroke-width="2.6" fill="#fff" stroke-linejoin="round" stroke-linecap="round"/>
<path d="M1280,1060 L1292,1072 L1330,1072 L1342,1060 M1292,1072 L1292,1092 M1330,1072 L1330,1092" stroke="#1e1e1e" stroke-width="2" fill="none" stroke-linejoin="round" stroke-linecap="round"/>
<ellipse cx="1311" cy="1053" rx="20" ry="10" transform="rotate(0 1311 1053)" stroke="#2b2b2b" stroke-width="2.2" fill="#fff"/>
<ellipse cx="1311" cy="1053" rx="16" ry="7.5" transform="rotate(0 1311 1053)" stroke="#222" stroke-width="3.5" fill="#3a3a3a"/>
<ellipse cx="1311" cy="1053" rx="9" ry="3.5" transform="rotate(0 1311 1053)" stroke="#2b2b2b" stroke-width="0" fill="#666"/>
<path d="M1400.0,668.0 L1487.0,713.0" stroke="#2b2b2b" stroke-width="2.5" fill="none" />
<ellipse cx="1402.5" cy="503.5" rx="21.5" ry="13" transform="rotate(-58 1402.5 503.5)" stroke="#262626" stroke-width="5" fill="none"/>
<ellipse cx="1402.5" cy="503.5" rx="21.5" ry="13" transform="rotate(-58 1402.5 503.5)" stroke="#999" stroke-width="0.9" fill="none"/>
<path d="M1450.4,507.7 L1451.5,508.4 L1452.6,509.3 L1453.5,510.3 L1454.3,511.5 L1455.0,512.9 L1455.5,514.3 L1456.0,515.9 L1456.3,517.6 L1456.4,519.4 L1456.4,521.2 L1456.3,523.1 L1456.1,525.1 L1455.7,527.1 L1455.1,529.1 L1454.5,531.1 L1453.7,533.1 L1452.8,535.1 L1451.8,537.0 L1450.7,538.9 L1449.5,540.7 L1448.2,542.4 L1446.9,544.1 L1445.4,545.6 L1443.9,547.0 L1442.4,548.2 L1440.9,549.3 L1439.3,550.3 L1437.7,551.1 L1436.1,551.7 L1434.5,552.2 L1433.0,552.5 L1431.5,552.6 L1430.1,552.6 L1428.7,552.4 L1427.4,552.0 L1426.1,551.4 L1415.6,545.6 L1414.5,544.8 L1413.5,543.9 L1412.6,542.9 L1411.7,541.7 L1411.1,540.3 L1410.5,538.9 L1410.1,537.3 L1409.8,535.6 L1409.6,533.8 L1409.6,532.0 L1409.7,530.1 L1410.0,528.1 L1410.4,526.1 L1410.9,524.1 L1411.5,522.1 L1412.3,520.1 L1413.2,518.1 L1414.2,516.2 L1415.3,514.3 L1416.5,512.5 L1417.8,510.8 L1419.2,509.2 L1420.6,507.6 L1422.1,506.3 L1423.6,505.0 L1425.2,503.9 L1426.8,502.9 L1428.3,502.1 L1429.9,501.5 L1431.5,501.0 L1433.0,500.7 L1434.5,500.6 L1436.0,500.6 L1437.3,500.9 L1438.7,501.3 L1439.9,501.8 Z" stroke="#1e1e1e" stroke-width="2" fill="#262626" stroke-linejoin="round"/>
<path d="M1461.8,511.7 L1463.1,512.5 L1464.2,513.5 L1465.2,514.6 L1466.1,515.9 L1466.8,517.4 L1467.4,518.9 L1467.9,520.6 L1468.2,522.5 L1468.4,524.4 L1468.4,526.4 L1468.3,528.4 L1468.0,530.6 L1467.6,532.7 L1467.0,534.9 L1466.3,537.1 L1465.5,539.2 L1464.5,541.4 L1463.4,543.4 L1462.2,545.5 L1460.9,547.4 L1459.5,549.3 L1458.0,551.0 L1456.5,552.7 L1454.9,554.2 L1453.2,555.5 L1451.6,556.7 L1449.9,557.8 L1448.1,558.6 L1446.4,559.3 L1444.7,559.8 L1443.1,560.2 L1441.5,560.3 L1439.9,560.2 L1438.4,560.0 L1437.0,559.6 L1435.7,558.9 L1425.2,553.1 L1423.9,552.3 L1422.8,551.4 L1421.8,550.2 L1421.0,548.9 L1420.2,547.5 L1419.6,545.9 L1419.1,544.2 L1418.8,542.4 L1418.7,540.5 L1418.6,538.5 L1418.8,536.4 L1419.0,534.3 L1419.5,532.1 L1420.0,530.0 L1420.7,527.8 L1421.6,525.6 L1422.5,523.5 L1423.6,521.4 L1424.8,519.4 L1426.1,517.4 L1427.5,515.6 L1429.0,513.8 L1430.5,512.2 L1432.1,510.7 L1433.8,509.3 L1435.5,508.1 L1437.2,507.1 L1438.9,506.2 L1440.6,505.5 L1442.3,505.0 L1443.9,504.7 L1445.6,504.6 L1447.1,504.6 L1448.6,504.9 L1450.0,505.3 L1451.4,505.9 Z" stroke="#1e1e1e" stroke-width="2.6" fill="#fff" stroke-linejoin="round"/>
<path d="M1468.4,516.5 L1469.5,517.2 L1470.6,518.2 L1471.6,519.3 L1472.4,520.5 L1473.1,521.9 L1473.7,523.4 L1474.2,525.1 L1474.5,526.8 L1474.6,528.7 L1474.7,530.6 L1474.5,532.6 L1474.3,534.6 L1473.9,536.7 L1473.3,538.8 L1472.6,540.9 L1471.8,543.0 L1470.9,545.0 L1469.9,547.0 L1468.7,549.0 L1467.5,550.9 L1466.1,552.6 L1464.7,554.3 L1463.2,555.9 L1461.7,557.4 L1460.1,558.7 L1458.5,559.8 L1456.8,560.8 L1455.2,561.7 L1453.5,562.3 L1451.9,562.8 L1450.3,563.1 L1448.7,563.3 L1447.2,563.2 L1445.8,563.0 L1444.4,562.5 L1443.2,562.0 L1436.2,558.1 L1435.0,557.3 L1433.9,556.4 L1432.9,555.3 L1432.1,554.0 L1431.4,552.6 L1430.8,551.1 L1430.3,549.5 L1430.0,547.7 L1429.9,545.9 L1429.9,544.0 L1430.0,542.0 L1430.2,539.9 L1430.7,537.9 L1431.2,535.8 L1431.9,533.7 L1432.7,531.6 L1433.6,529.5 L1434.7,527.5 L1435.8,525.6 L1437.1,523.7 L1438.4,521.9 L1439.8,520.2 L1441.3,518.6 L1442.9,517.2 L1444.4,515.9 L1446.1,514.7 L1447.7,513.7 L1449.4,512.9 L1451.0,512.2 L1452.6,511.7 L1454.2,511.4 L1455.8,511.3 L1457.3,511.3 L1458.7,511.6 L1460.1,512.0 L1461.4,512.6 Z" stroke="#1e1e1e" stroke-width="2.4" fill="#fff" stroke-linejoin="round"/>
<path d="M1479.6,525.0 L1480.7,525.7 L1481.7,526.6 L1482.6,527.6 L1483.4,528.7 L1484.0,530.0 L1484.6,531.4 L1485.0,532.9 L1485.3,534.6 L1485.4,536.3 L1485.4,538.0 L1485.3,539.9 L1485.1,541.8 L1484.7,543.7 L1484.2,545.6 L1483.6,547.5 L1482.8,549.5 L1482.0,551.4 L1481.0,553.2 L1480.0,555.0 L1478.8,556.7 L1477.6,558.4 L1476.2,560.0 L1474.9,561.4 L1473.5,562.7 L1472.0,563.9 L1470.5,565.0 L1469.0,565.9 L1467.5,566.7 L1465.9,567.3 L1464.4,567.8 L1463.0,568.1 L1461.5,568.2 L1460.1,568.1 L1458.8,567.9 L1457.5,567.5 L1456.4,567.0 L1444.1,560.2 L1443.0,559.5 L1442.0,558.6 L1441.1,557.6 L1440.4,556.5 L1439.7,555.2 L1439.2,553.8 L1438.8,552.3 L1438.5,550.7 L1438.3,549.0 L1438.3,547.2 L1438.4,545.3 L1438.7,543.5 L1439.0,541.5 L1439.5,539.6 L1440.2,537.7 L1440.9,535.8 L1441.8,533.9 L1442.7,532.0 L1443.8,530.2 L1445.0,528.5 L1446.2,526.8 L1447.5,525.3 L1448.9,523.8 L1450.3,522.5 L1451.8,521.3 L1453.3,520.2 L1454.8,519.3 L1456.3,518.5 L1457.8,517.9 L1459.3,517.4 L1460.8,517.1 L1462.2,517.0 L1463.6,517.1 L1465.0,517.3 L1466.2,517.7 L1467.4,518.2 Z" stroke="#1e1e1e" stroke-width="2" fill="#262626" stroke-linejoin="round"/>
<path d="M1433.9,558.0 L1432.7,557.2 L1431.6,556.2 L1430.6,555.1 L1429.7,553.8 L1429.0,552.3 L1428.4,550.8 L1427.9,549.1 L1427.6,547.2 L1427.4,545.3 L1427.4,543.3 L1427.5,541.3 L1427.8,539.1 L1428.2,537.0 L1428.8,534.8 L1429.5,532.6 L1430.3,530.5 L1431.3,528.3 L1432.4,526.2 L1433.6,524.2 L1434.9,522.3 L1436.3,520.4 L1437.7,518.7 L1439.3,517.0 L1440.9,515.5 L1442.5,514.2 L1444.2,513.0 L1445.9,511.9 L1447.6,511.1 L1449.3,510.4 L1451.0,509.9 L1452.7,509.5 L1454.3,509.4 L1455.9,509.5 L1457.4,509.7 L1458.8,510.1 L1460.1,510.7" stroke="#333" stroke-width="1.6" fill="none" />
<path d="M1429.5,555.6 L1428.3,554.8 L1427.2,553.8 L1426.2,552.7 L1425.3,551.4 L1424.6,549.9 L1424.0,548.3 L1423.5,546.6 L1423.2,544.8 L1423.0,542.9 L1423.0,540.9 L1423.1,538.8 L1423.4,536.7 L1423.8,534.6 L1424.4,532.4 L1425.1,530.2 L1425.9,528.0 L1426.9,525.9 L1428.0,523.8 L1429.2,521.8 L1430.5,519.8 L1431.9,518.0 L1433.4,516.2 L1434.9,514.6 L1436.5,513.1 L1438.2,511.7 L1439.8,510.5 L1441.5,509.5 L1443.3,508.6 L1445.0,507.9 L1446.7,507.4 L1448.3,507.1 L1449.9,507.0 L1451.5,507.0 L1453.0,507.3 L1454.4,507.7 L1455.7,508.3" stroke="#333" stroke-width="1.6" fill="none" />
<path d="M1426.9,554.1 L1425.7,553.3 L1424.6,552.3 L1423.6,551.2 L1422.7,549.9 L1422.0,548.5 L1421.4,546.9 L1420.9,545.2 L1420.6,543.4 L1420.4,541.4 L1420.4,539.4 L1420.5,537.4 L1420.8,535.3 L1421.2,533.1 L1421.8,530.9 L1422.5,528.8 L1423.3,526.6 L1424.3,524.5 L1425.4,522.4 L1426.6,520.3 L1427.9,518.4 L1429.3,516.5 L1430.7,514.8 L1432.3,513.2 L1433.9,511.7 L1435.5,510.3 L1437.2,509.1 L1438.9,508.0 L1440.6,507.2 L1442.3,506.5 L1444.0,506.0 L1445.7,505.7 L1447.3,505.5 L1448.9,505.6 L1450.4,505.8 L1451.8,506.3 L1453.1,506.9" stroke="#333" stroke-width="1.6" fill="none" />
<path d="M1441.0,518.0 L1437.0,545.0" stroke="#2b2b2b" stroke-width="1.6" fill="none" />
<path d="M1447.0,560.0 L1440.0,545.0" stroke="#2b2b2b" stroke-width="1.6" fill="none" />
<ellipse cx="1468" cy="546" rx="24" ry="15" transform="rotate(-61 1468 546)" stroke="#1a1a1a" stroke-width="3" fill="#2c2c2c"/>
<ellipse cx="1471" cy="545" rx="18" ry="11" transform="rotate(-61 1471 545)" stroke="#999" stroke-width="2" fill="#fff"/>
<path d="M1528.5,555.5 L1529.4,556.1 L1530.1,556.8 L1530.8,557.6 L1531.4,558.6 L1531.9,559.6 L1532.3,560.7 L1532.6,561.9 L1532.8,563.2 L1532.9,564.5 L1532.9,565.9 L1532.8,567.4 L1532.6,568.9 L1532.3,570.4 L1531.8,571.9 L1531.3,573.4 L1530.7,574.9 L1530.0,576.4 L1529.2,577.9 L1528.3,579.3 L1527.4,580.7 L1526.4,581.9 L1525.3,583.2 L1524.2,584.3 L1523.1,585.3 L1521.9,586.3 L1520.7,587.1 L1519.5,587.8 L1518.3,588.4 L1517.1,588.9 L1515.9,589.2 L1514.7,589.4 L1513.6,589.5 L1512.5,589.4 L1511.4,589.2 L1510.4,588.9 L1509.5,588.5 L1497.4,581.5 L1496.5,580.9 L1495.7,580.2 L1495.1,579.4 L1494.5,578.4 L1494.0,577.4 L1493.5,576.3 L1493.2,575.1 L1493.0,573.8 L1492.9,572.5 L1493.0,571.1 L1493.1,569.6 L1493.3,568.1 L1493.6,566.6 L1494.0,565.1 L1494.6,563.6 L1495.2,562.1 L1495.9,560.6 L1496.7,559.1 L1497.5,557.7 L1498.5,556.3 L1499.5,555.1 L1500.5,553.8 L1501.6,552.7 L1502.8,551.7 L1504.0,550.7 L1505.2,549.9 L1506.4,549.2 L1507.6,548.6 L1508.8,548.1 L1510.0,547.8 L1511.2,547.6 L1512.3,547.5 L1513.4,547.6 L1514.5,547.8 L1515.5,548.1 L1516.4,548.5 Z" stroke="#1e1e1e" stroke-width="2.6" fill="#fff" stroke-linejoin="round"/>
<path d="M1502.2,584.3 L1501.4,583.7 L1500.6,583.0 L1499.9,582.2 L1499.3,581.2 L1498.8,580.2 L1498.4,579.1 L1498.1,577.9 L1497.9,576.6 L1497.8,575.3 L1497.8,573.9 L1497.9,572.4 L1498.1,570.9 L1498.5,569.4 L1498.9,567.9 L1499.4,566.4 L1500.0,564.9 L1500.7,563.4 L1501.5,561.9 L1502.4,560.5 L1503.3,559.1 L1504.3,557.9 L1505.4,556.6 L1506.5,555.5 L1507.6,554.5 L1508.8,553.5 L1510.0,552.7 L1511.2,552.0 L1512.4,551.4 L1513.7,550.9 L1514.9,550.6 L1516.0,550.4 L1517.2,550.3 L1518.3,550.4 L1519.3,550.6 L1520.3,550.9 L1521.2,551.3" stroke="#2a2a2a" stroke-width="4" fill="none" />
<ellipse cx="1519" cy="572" rx="19" ry="11.8" transform="rotate(-60 1519 572)" stroke="#2b2b2b" stroke-width="3" fill="#fff"/>
<path d="M1513.5,584.0 L1512.9,583.6 L1512.4,583.1 L1512.0,582.5 L1511.6,581.9 L1511.3,581.1 L1511.1,580.3 L1511.0,579.4 L1510.9,578.4 L1510.9,577.4 L1511.0,576.4 L1511.2,575.3 L1511.4,574.1 L1511.7,573.0 L1512.1,571.8 L1512.5,570.6 L1513.0,569.4 L1513.6,568.2 L1514.2,567.1 L1514.9,566.0 L1515.6,564.9 L1516.4,563.9 L1517.2,562.9 L1518.0,562.0 L1518.9,561.1 L1519.8,560.4 L1520.6,559.7 L1521.5,559.1 L1522.4,558.5 L1523.3,558.1 L1524.1,557.8 L1524.9,557.6 L1525.7,557.5 L1526.5,557.4 L1527.2,557.5 L1527.9,557.7 L1528.5,558.0" stroke="#2b2b2b" stroke-width="2.2" fill="none" />
<path d="M1538.1,593.9 L1544.7,579.0 L1559.6,568.7 L1577.3,569.7 L1594.1,579.0 L1598.8,594.9 L1596.9,610.8 L1584.8,627.6 L1568.0,633.1 L1554.9,629.5 L1539.9,622.0 L1535.3,605.1 Z" stroke="#2b2b2b" stroke-width="2.6" fill="#fff" stroke-linejoin="round"/>
<path d="M1538.1,593.9 L1554.9,602.3 L1556.8,628.5" stroke="#2b2b2b" stroke-width="2.2" fill="none" />
<path d="M1554.9,602.3 L1574.5,578.0 L1594.1,579.0" stroke="#2b2b2b" stroke-width="2.2" fill="none" />
<path d="M1574.5,578.0 L1559.6,568.7" stroke="#2b2b2b" stroke-width="1.8" fill="none" />
<ellipse cx="1577.7" cy="605.9" rx="19.7" ry="24.6" transform="rotate(30 1577.7 605.9)" stroke="#2b2b2b" stroke-width="2.4" fill="#fff"/>
<ellipse cx="1577.7" cy="605.9" rx="16.4" ry="21.3" transform="rotate(30 1577.7 605.9)" stroke="#666" stroke-width="1.5" fill="#fff"/>
<ellipse cx="1577.7" cy="605.9" rx="13.1" ry="18.0" transform="rotate(30 1577.7 605.9)" stroke="#1a1a1a" stroke-width="2.5" fill="#303030"/>
<ellipse cx="1576.0" cy="607.6" rx="5.7" ry="9.8" transform="rotate(30 1576.0 607.6)" stroke="#2b2b2b" stroke-width="0" fill="#4a4a4a"/>
<path d="M1483.5,797.3 L1484.3,797.8 L1485.0,798.4 L1485.6,799.1 L1486.1,800.0 L1486.6,800.9 L1486.9,801.9 L1487.2,803.0 L1487.4,804.1 L1487.5,805.3 L1487.5,806.6 L1487.4,807.9 L1487.2,809.2 L1486.9,810.6 L1486.5,811.9 L1486.0,813.3 L1485.5,814.6 L1484.8,816.0 L1484.1,817.3 L1483.4,818.5 L1482.5,819.7 L1481.6,820.9 L1480.7,822.0 L1479.7,823.0 L1478.7,823.9 L1477.6,824.8 L1476.5,825.5 L1475.4,826.1 L1474.4,826.7 L1473.3,827.1 L1472.2,827.4 L1471.2,827.6 L1470.1,827.6 L1469.2,827.6 L1468.2,827.4 L1467.3,827.1 L1466.5,826.7 L1444.0,813.7 L1443.2,813.2 L1442.5,812.6 L1441.9,811.9 L1441.4,811.0 L1440.9,810.1 L1440.6,809.1 L1440.3,808.0 L1440.1,806.9 L1440.0,805.7 L1440.0,804.4 L1440.1,803.1 L1440.3,801.8 L1440.6,800.4 L1441.0,799.1 L1441.5,797.7 L1442.0,796.4 L1442.6,795.0 L1443.4,793.7 L1444.1,792.5 L1445.0,791.3 L1445.9,790.1 L1446.8,789.0 L1447.8,788.0 L1448.8,787.1 L1449.9,786.2 L1451.0,785.5 L1452.0,784.9 L1453.1,784.3 L1454.2,783.9 L1455.3,783.6 L1456.3,783.4 L1457.3,783.4 L1458.3,783.4 L1459.3,783.6 L1460.2,783.9 L1461.0,784.3 Z" stroke="#1e1e1e" stroke-width="2.4" fill="#fff" stroke-linejoin="round"/>
<path d="M1459.6,822.7 L1458.8,822.2 L1458.1,821.6 L1457.5,820.9 L1457.0,820.0 L1456.5,819.1 L1456.1,818.1 L1455.9,817.0 L1455.7,815.9 L1455.6,814.7 L1455.6,813.4 L1455.7,812.1 L1455.9,810.8 L1456.2,809.4 L1456.6,808.1 L1457.1,806.7 L1457.6,805.4 L1458.2,804.0 L1458.9,802.7 L1459.7,801.5 L1460.6,800.3 L1461.5,799.1 L1462.4,798.0 L1463.4,797.0 L1464.4,796.1 L1465.5,795.2 L1466.5,794.5 L1467.6,793.9 L1468.7,793.3 L1469.8,792.9 L1470.9,792.6 L1471.9,792.4 L1472.9,792.4 L1473.9,792.4 L1474.9,792.6 L1475.7,792.9 L1476.6,793.3" stroke="#222" stroke-width="5" fill="none" />
<path d="M1455.2,820.2 L1454.5,819.7 L1453.8,819.1 L1453.2,818.4 L1452.6,817.5 L1452.2,816.6 L1451.8,815.6 L1451.5,814.5 L1451.4,813.4 L1451.3,812.2 L1451.3,810.9 L1451.4,809.6 L1451.6,808.3 L1451.9,806.9 L1452.3,805.6 L1452.7,804.2 L1453.3,802.9 L1453.9,801.5 L1454.6,800.2 L1455.4,799.0 L1456.2,797.8 L1457.1,796.6 L1458.1,795.5 L1459.1,794.5 L1460.1,793.6 L1461.1,792.7 L1462.2,792.0 L1463.3,791.4 L1464.4,790.8 L1465.5,790.4 L1466.5,790.1 L1467.6,789.9 L1468.6,789.9 L1469.6,789.9 L1470.5,790.1 L1471.4,790.4 L1472.2,790.8" stroke="#333" stroke-width="2" fill="none" />
<ellipse cx="1475" cy="812" rx="16" ry="10.5" transform="rotate(-60 1475 812)" stroke="#262626" stroke-width="5" fill="#777"/>
<ellipse cx="1477" cy="811" rx="7" ry="6" transform="rotate(-60 1477 811)" stroke="#2b2b2b" stroke-width="0" fill="#fff"/>
<path d="M1527.5,821.3 L1528.3,821.8 L1529.0,822.4 L1529.6,823.1 L1530.1,824.0 L1530.6,824.9 L1530.9,825.9 L1531.2,827.0 L1531.4,828.1 L1531.5,829.3 L1531.5,830.6 L1531.4,831.9 L1531.2,833.2 L1530.9,834.6 L1530.5,835.9 L1530.0,837.3 L1529.5,838.6 L1528.8,840.0 L1528.1,841.3 L1527.4,842.5 L1526.5,843.7 L1525.6,844.9 L1524.7,846.0 L1523.7,847.0 L1522.7,847.9 L1521.6,848.8 L1520.5,849.5 L1519.4,850.1 L1518.4,850.7 L1517.3,851.1 L1516.2,851.4 L1515.2,851.6 L1514.1,851.6 L1513.2,851.6 L1512.2,851.4 L1511.3,851.1 L1510.5,850.7 L1500.1,844.7 L1499.3,844.2 L1498.7,843.6 L1498.0,842.9 L1497.5,842.0 L1497.0,841.1 L1496.7,840.1 L1496.4,839.0 L1496.2,837.9 L1496.1,836.7 L1496.2,835.4 L1496.3,834.1 L1496.5,832.8 L1496.7,831.4 L1497.1,830.1 L1497.6,828.7 L1498.1,827.4 L1498.8,826.0 L1499.5,824.7 L1500.3,823.5 L1501.1,822.3 L1502.0,821.1 L1502.9,820.0 L1503.9,819.0 L1505.0,818.1 L1506.0,817.2 L1507.1,816.5 L1508.2,815.9 L1509.3,815.3 L1510.3,814.9 L1511.4,814.6 L1512.5,814.4 L1513.5,814.4 L1514.5,814.4 L1515.4,814.6 L1516.3,814.9 L1517.1,815.3 Z" stroke="#1e1e1e" stroke-width="2.6" fill="#fff" stroke-linejoin="round"/>
<ellipse cx="1519" cy="836" rx="17" ry="10.5" transform="rotate(-60 1519 836)" stroke="#2b2b2b" stroke-width="3" fill="#fff"/>
<path d="M1514.5,846.3 L1514.0,845.9 L1513.6,845.5 L1513.3,845.0 L1513.0,844.5 L1512.7,843.8 L1512.6,843.1 L1512.4,842.4 L1512.4,841.5 L1512.4,840.7 L1512.5,839.7 L1512.7,838.8 L1512.9,837.8 L1513.2,836.8 L1513.5,835.8 L1513.9,834.8 L1514.3,833.8 L1514.8,832.7 L1515.4,831.8 L1516.0,830.8 L1516.6,829.8 L1517.2,828.9 L1517.9,828.1 L1518.6,827.3 L1519.4,826.6 L1520.1,825.9 L1520.9,825.3 L1521.6,824.7 L1522.4,824.3 L1523.1,823.9 L1523.8,823.6 L1524.5,823.4 L1525.2,823.3 L1525.8,823.3 L1526.4,823.3 L1527.0,823.5 L1527.5,823.7" stroke="#2b2b2b" stroke-width="2.2" fill="none" />
<ellipse cx="1555" cy="866" rx="21" ry="14" transform="rotate(-58 1555 866)" stroke="#2b2b2b" stroke-width="3" fill="#fff"/>
<path d="M1549.0,878.0 L1545.0,866.0 L1552.0,853.0 L1562.0,852.0 L1566.0,862.0 L1560.0,876.0 Z" stroke="#2b2b2b" stroke-width="2.4" fill="#fff" stroke-linejoin="round"/>
<ellipse cx="1620" cy="898" rx="27" ry="18" transform="rotate(-60 1620 898)" stroke="#2a2a2a" stroke-width="4.5" fill="#fff"/>
<ellipse cx="1620" cy="898" rx="22" ry="14" transform="rotate(-60 1620 898)" stroke="#666" stroke-width="1.5" fill="#fff"/>
<ellipse cx="1620" cy="898" rx="19" ry="12" transform="rotate(-60 1620 898)" stroke="#333" stroke-width="2.2" fill="#ddd"/>
<clipPath id="strc"><ellipse cx="1620" cy="898" rx="18" ry="11" transform="rotate(-60 1620 898)"/></clipPath>
<path d="M1578.0,870 L1618.0,926 M1590,866 L1650,882 M1583.5,870 L1623.5,926 M1590,872 L1650,888 M1589.0,870 L1629.0,926 M1590,878 L1650,894 M1594.5,870 L1634.5,926 M1590,884 L1650,900 M1600.0,870 L1640.0,926 M1590,890 L1650,906 M1605.5,870 L1645.5,926 M1590,896 L1650,912 M1611.0,870 L1651.0,926 M1590,902 L1650,918 M1616.5,870 L1656.5,926 M1590,908 L1650,924 M1622.0,870 L1662.0,926 M1590,914 L1650,930" stroke="#444" stroke-width="1.6" clip-path="url(#strc)"/>
<path d="M1683.9,904.6 L1685.1,905.4 L1686.2,906.4 L1687.2,907.6 L1688.1,908.9 L1688.8,910.3 L1689.4,911.9 L1689.8,913.6 L1690.1,915.5 L1690.2,917.4 L1690.2,919.4 L1690.0,921.4 L1689.7,923.6 L1689.3,925.7 L1688.7,927.9 L1687.9,930.0 L1687.0,932.2 L1686.0,934.3 L1684.9,936.4 L1683.7,938.4 L1682.3,940.3 L1680.9,942.1 L1679.4,943.9 L1677.8,945.5 L1676.2,946.9 L1674.5,948.3 L1672.8,949.4 L1671.1,950.5 L1669.4,951.3 L1667.7,952.0 L1666.0,952.4 L1664.3,952.7 L1662.7,952.8 L1661.1,952.8 L1659.6,952.5 L1658.2,952.0 L1656.9,951.4 L1646.5,945.4 L1645.3,944.6 L1644.2,943.6 L1643.2,942.4 L1642.4,941.1 L1641.7,939.7 L1641.1,938.1 L1640.6,936.4 L1640.4,934.5 L1640.2,932.6 L1640.2,930.6 L1640.4,928.6 L1640.7,926.4 L1641.2,924.3 L1641.8,922.1 L1642.5,920.0 L1643.4,917.8 L1644.4,915.7 L1645.5,913.6 L1646.8,911.6 L1648.1,909.7 L1649.5,907.9 L1651.0,906.1 L1652.6,904.5 L1654.2,903.1 L1655.9,901.7 L1657.6,900.6 L1659.3,899.5 L1661.0,898.7 L1662.8,898.0 L1664.5,897.6 L1666.1,897.3 L1667.7,897.2 L1669.3,897.2 L1670.8,897.5 L1672.2,898.0 L1673.5,898.6 Z" stroke="#1e1e1e" stroke-width="2.6" fill="#fff" stroke-linejoin="round"/>
<path d="M1696.5,918.8 L1697.4,919.5 L1698.3,920.2 L1699.1,921.1 L1699.7,922.1 L1700.3,923.3 L1700.7,924.5 L1701.1,925.8 L1701.3,927.3 L1701.4,928.7 L1701.4,930.3 L1701.3,931.9 L1701.0,933.5 L1700.7,935.2 L1700.2,936.9 L1699.6,938.6 L1698.9,940.3 L1698.1,941.9 L1697.3,943.5 L1696.3,945.1 L1695.3,946.6 L1694.2,948.0 L1693.0,949.3 L1691.8,950.6 L1690.5,951.7 L1689.2,952.8 L1687.9,953.7 L1686.5,954.5 L1685.2,955.1 L1683.9,955.6 L1682.5,956.0 L1681.2,956.2 L1680.0,956.3 L1678.8,956.3 L1677.6,956.0 L1676.5,955.7 L1675.5,955.2 L1658.2,945.2 L1657.2,944.5 L1656.4,943.8 L1655.6,942.9 L1655.0,941.9 L1654.4,940.7 L1653.9,939.5 L1653.6,938.2 L1653.4,936.7 L1653.3,935.3 L1653.3,933.7 L1653.4,932.1 L1653.7,930.5 L1654.0,928.8 L1654.5,927.1 L1655.1,925.4 L1655.8,923.7 L1656.5,922.1 L1657.4,920.5 L1658.4,918.9 L1659.4,917.4 L1660.5,916.0 L1661.7,914.7 L1662.9,913.4 L1664.2,912.3 L1665.5,911.2 L1666.8,910.3 L1668.1,909.5 L1669.5,908.9 L1670.8,908.4 L1672.1,908.0 L1673.4,907.8 L1674.7,907.7 L1675.9,907.7 L1677.1,908.0 L1678.2,908.3 L1679.2,908.8 Z" stroke="#1e1e1e" stroke-width="2" fill="#262626" stroke-linejoin="round"/>
<path d="M1655.2,950.4 L1654.0,949.6 L1652.9,948.6 L1651.9,947.4 L1651.0,946.1 L1650.3,944.7 L1649.7,943.1 L1649.3,941.4 L1649.0,939.5 L1648.9,937.6 L1648.9,935.6 L1649.1,933.6 L1649.4,931.4 L1649.8,929.3 L1650.4,927.1 L1651.2,925.0 L1652.1,922.8 L1653.1,920.7 L1654.2,918.6 L1655.4,916.6 L1656.7,914.7 L1658.2,912.9 L1659.7,911.1 L1661.2,909.5 L1662.9,908.1 L1664.5,906.7 L1666.3,905.6 L1668.0,904.5 L1669.7,903.7 L1671.4,903.0 L1673.1,902.6 L1674.8,902.3 L1676.4,902.2 L1678.0,902.2 L1679.5,902.5 L1680.9,903.0 L1682.2,903.6" stroke="#444" stroke-width="1.6" fill="none" />
<path d="M1651.7,948.4 L1650.5,947.6 L1649.4,946.6 L1648.4,945.4 L1647.6,944.1 L1646.9,942.7 L1646.3,941.1 L1645.8,939.4 L1645.6,937.5 L1645.4,935.6 L1645.4,933.6 L1645.6,931.6 L1645.9,929.4 L1646.4,927.3 L1647.0,925.1 L1647.7,923.0 L1648.6,920.8 L1649.6,918.7 L1650.7,916.6 L1651.9,914.6 L1653.3,912.7 L1654.7,910.9 L1656.2,909.1 L1657.8,907.5 L1659.4,906.1 L1661.1,904.7 L1662.8,903.6 L1664.5,902.5 L1666.2,901.7 L1668.0,901.0 L1669.7,900.6 L1671.3,900.3 L1672.9,900.2 L1674.5,900.2 L1676.0,900.5 L1677.4,901.0 L1678.7,901.6" stroke="#444" stroke-width="1.6" fill="none" />
<ellipse cx="1686" cy="937" rx="21" ry="13" transform="rotate(-60 1686 937)" stroke="#1a1a1a" stroke-width="3" fill="#333"/>
<ellipse cx="1689" cy="936" rx="14" ry="9.5" transform="rotate(-60 1689 936)" stroke="#2b2b2b" stroke-width="0" fill="#fff"/>
<path d="M1712.8,962.4 L1720.8,944.2 L1739.0,931.6 L1760.6,932.8 L1781.1,944.2 L1786.8,963.5 L1784.5,982.9 L1769.7,1003.4 L1749.2,1010.2 L1733.3,1005.7 L1715.0,996.6 L1709.4,976.0 Z" stroke="#2b2b2b" stroke-width="2.6" fill="#fff" stroke-linejoin="round"/>
<path d="M1712.8,962.4 L1733.3,972.6 L1735.6,1004.5" stroke="#2b2b2b" stroke-width="2.2" fill="none" />
<path d="M1733.3,972.6 L1757.2,943.0 L1781.1,944.2" stroke="#2b2b2b" stroke-width="2.2" fill="none" />
<path d="M1757.2,943.0 L1739.0,931.6" stroke="#2b2b2b" stroke-width="1.8" fill="none" />
<ellipse cx="1761.0" cy="977.0" rx="24.0" ry="30.0" transform="rotate(30 1761.0 977.0)" stroke="#2b2b2b" stroke-width="2.4" fill="#fff"/>
<ellipse cx="1761.0" cy="977.0" rx="20.0" ry="26.0" transform="rotate(30 1761.0 977.0)" stroke="#666" stroke-width="1.5" fill="#fff"/>
<ellipse cx="1761.0" cy="977.0" rx="16.0" ry="22.0" transform="rotate(30 1761.0 977.0)" stroke="#1a1a1a" stroke-width="2.5" fill="#303030"/>
<ellipse cx="1759.0" cy="979.0" rx="7.0" ry="12.0" transform="rotate(30 1759.0 979.0)" stroke="#2b2b2b" stroke-width="0" fill="#4a4a4a"/>
<path d="M1821.5,991.5 L1822.4,992.1 L1823.1,992.8 L1823.8,993.6 L1824.4,994.6 L1824.9,995.6 L1825.3,996.7 L1825.6,997.9 L1825.8,999.2 L1825.9,1000.5 L1825.9,1001.9 L1825.8,1003.4 L1825.6,1004.9 L1825.3,1006.4 L1824.8,1007.9 L1824.3,1009.4 L1823.7,1010.9 L1823.0,1012.4 L1822.2,1013.9 L1821.3,1015.3 L1820.4,1016.7 L1819.4,1017.9 L1818.3,1019.2 L1817.2,1020.3 L1816.1,1021.3 L1814.9,1022.3 L1813.7,1023.1 L1812.5,1023.8 L1811.3,1024.4 L1810.1,1024.9 L1808.9,1025.2 L1807.7,1025.4 L1806.6,1025.5 L1805.5,1025.4 L1804.4,1025.2 L1803.4,1024.9 L1802.5,1024.5 L1790.4,1017.5 L1789.5,1016.9 L1788.7,1016.2 L1788.1,1015.4 L1787.5,1014.4 L1787.0,1013.4 L1786.5,1012.3 L1786.2,1011.1 L1786.0,1009.8 L1785.9,1008.5 L1786.0,1007.1 L1786.1,1005.6 L1786.3,1004.1 L1786.6,1002.6 L1787.0,1001.1 L1787.6,999.6 L1788.2,998.1 L1788.9,996.6 L1789.7,995.1 L1790.5,993.7 L1791.5,992.3 L1792.5,991.1 L1793.5,989.8 L1794.6,988.7 L1795.8,987.7 L1797.0,986.7 L1798.2,985.9 L1799.4,985.2 L1800.6,984.6 L1801.8,984.1 L1803.0,983.8 L1804.2,983.6 L1805.3,983.5 L1806.4,983.6 L1807.5,983.8 L1808.5,984.1 L1809.4,984.5 Z" stroke="#1e1e1e" stroke-width="2.6" fill="#fff" stroke-linejoin="round"/>
<path d="M1795.2,1020.3 L1794.4,1019.7 L1793.6,1019.0 L1792.9,1018.2 L1792.3,1017.2 L1791.8,1016.2 L1791.4,1015.1 L1791.1,1013.9 L1790.9,1012.6 L1790.8,1011.3 L1790.8,1009.9 L1790.9,1008.4 L1791.1,1006.9 L1791.5,1005.4 L1791.9,1003.9 L1792.4,1002.4 L1793.0,1000.9 L1793.7,999.4 L1794.5,997.9 L1795.4,996.5 L1796.3,995.1 L1797.3,993.9 L1798.4,992.6 L1799.5,991.5 L1800.6,990.5 L1801.8,989.5 L1803.0,988.7 L1804.2,988.0 L1805.4,987.4 L1806.7,986.9 L1807.9,986.6 L1809.0,986.4 L1810.2,986.3 L1811.3,986.4 L1812.3,986.6 L1813.3,986.9 L1814.2,987.3" stroke="#2a2a2a" stroke-width="4" fill="none" />
<ellipse cx="1812" cy="1008" rx="19" ry="11.8" transform="rotate(-60 1812 1008)" stroke="#2b2b2b" stroke-width="3" fill="#fff"/>
<path d="M1806.5,1020.0 L1805.9,1019.6 L1805.4,1019.1 L1805.0,1018.5 L1804.6,1017.9 L1804.3,1017.1 L1804.1,1016.3 L1804.0,1015.4 L1803.9,1014.4 L1803.9,1013.4 L1804.0,1012.4 L1804.2,1011.3 L1804.4,1010.1 L1804.7,1009.0 L1805.1,1007.8 L1805.5,1006.6 L1806.0,1005.4 L1806.6,1004.2 L1807.2,1003.1 L1807.9,1002.0 L1808.6,1000.9 L1809.4,999.9 L1810.2,998.9 L1811.0,998.0 L1811.9,997.1 L1812.8,996.4 L1813.6,995.7 L1814.5,995.1 L1815.4,994.5 L1816.3,994.1 L1817.1,993.8 L1817.9,993.6 L1818.7,993.5 L1819.5,993.4 L1820.2,993.5 L1820.9,993.7 L1821.5,994.0" stroke="#2b2b2b" stroke-width="2.2" fill="none" />
<path d="M1832.5,1031.0 L1839.0,1016.3 L1853.7,1006.1 L1871.2,1007.1 L1887.8,1016.3 L1892.4,1031.9 L1890.6,1047.6 L1878.6,1064.2 L1862.0,1069.8 L1849.1,1066.1 L1834.3,1058.7 L1829.7,1042.0 Z" stroke="#2b2b2b" stroke-width="2.6" fill="#fff" stroke-linejoin="round"/>
<path d="M1832.5,1031.0 L1849.1,1039.3 L1851.0,1065.1" stroke="#2b2b2b" stroke-width="2.2" fill="none" />
<path d="M1849.1,1039.3 L1868.5,1015.3 L1887.8,1016.3" stroke="#2b2b2b" stroke-width="2.2" fill="none" />
<path d="M1868.5,1015.3 L1853.7,1006.1" stroke="#2b2b2b" stroke-width="1.8" fill="none" />
<ellipse cx="1871.5" cy="1042.9" rx="19.4" ry="24.3" transform="rotate(30 1871.5 1042.9)" stroke="#2b2b2b" stroke-width="2.4" fill="#fff"/>
<ellipse cx="1871.5" cy="1042.9" rx="16.2" ry="21.1" transform="rotate(30 1871.5 1042.9)" stroke="#666" stroke-width="1.5" fill="#fff"/>
<ellipse cx="1871.5" cy="1042.9" rx="13.0" ry="17.8" transform="rotate(30 1871.5 1042.9)" stroke="#1a1a1a" stroke-width="2.5" fill="#303030"/>
<ellipse cx="1869.9" cy="1044.5" rx="5.7" ry="9.7" transform="rotate(30 1869.9 1044.5)" stroke="#2b2b2b" stroke-width="0" fill="#4a4a4a"/>
<path d="M893.5,1572.6 L921,1589 C924,1591 928,1591 931,1589 L1016,1537.6" stroke="#262626" stroke-width="7.5" fill="none" stroke-linecap="square" stroke-linejoin="round"/>
<path d="M896,1572 L922,1587.5 M928,1587.5 L1014,1537.5" stroke="#777" stroke-width="1.2" fill="none"/>
</svg></body></html>
